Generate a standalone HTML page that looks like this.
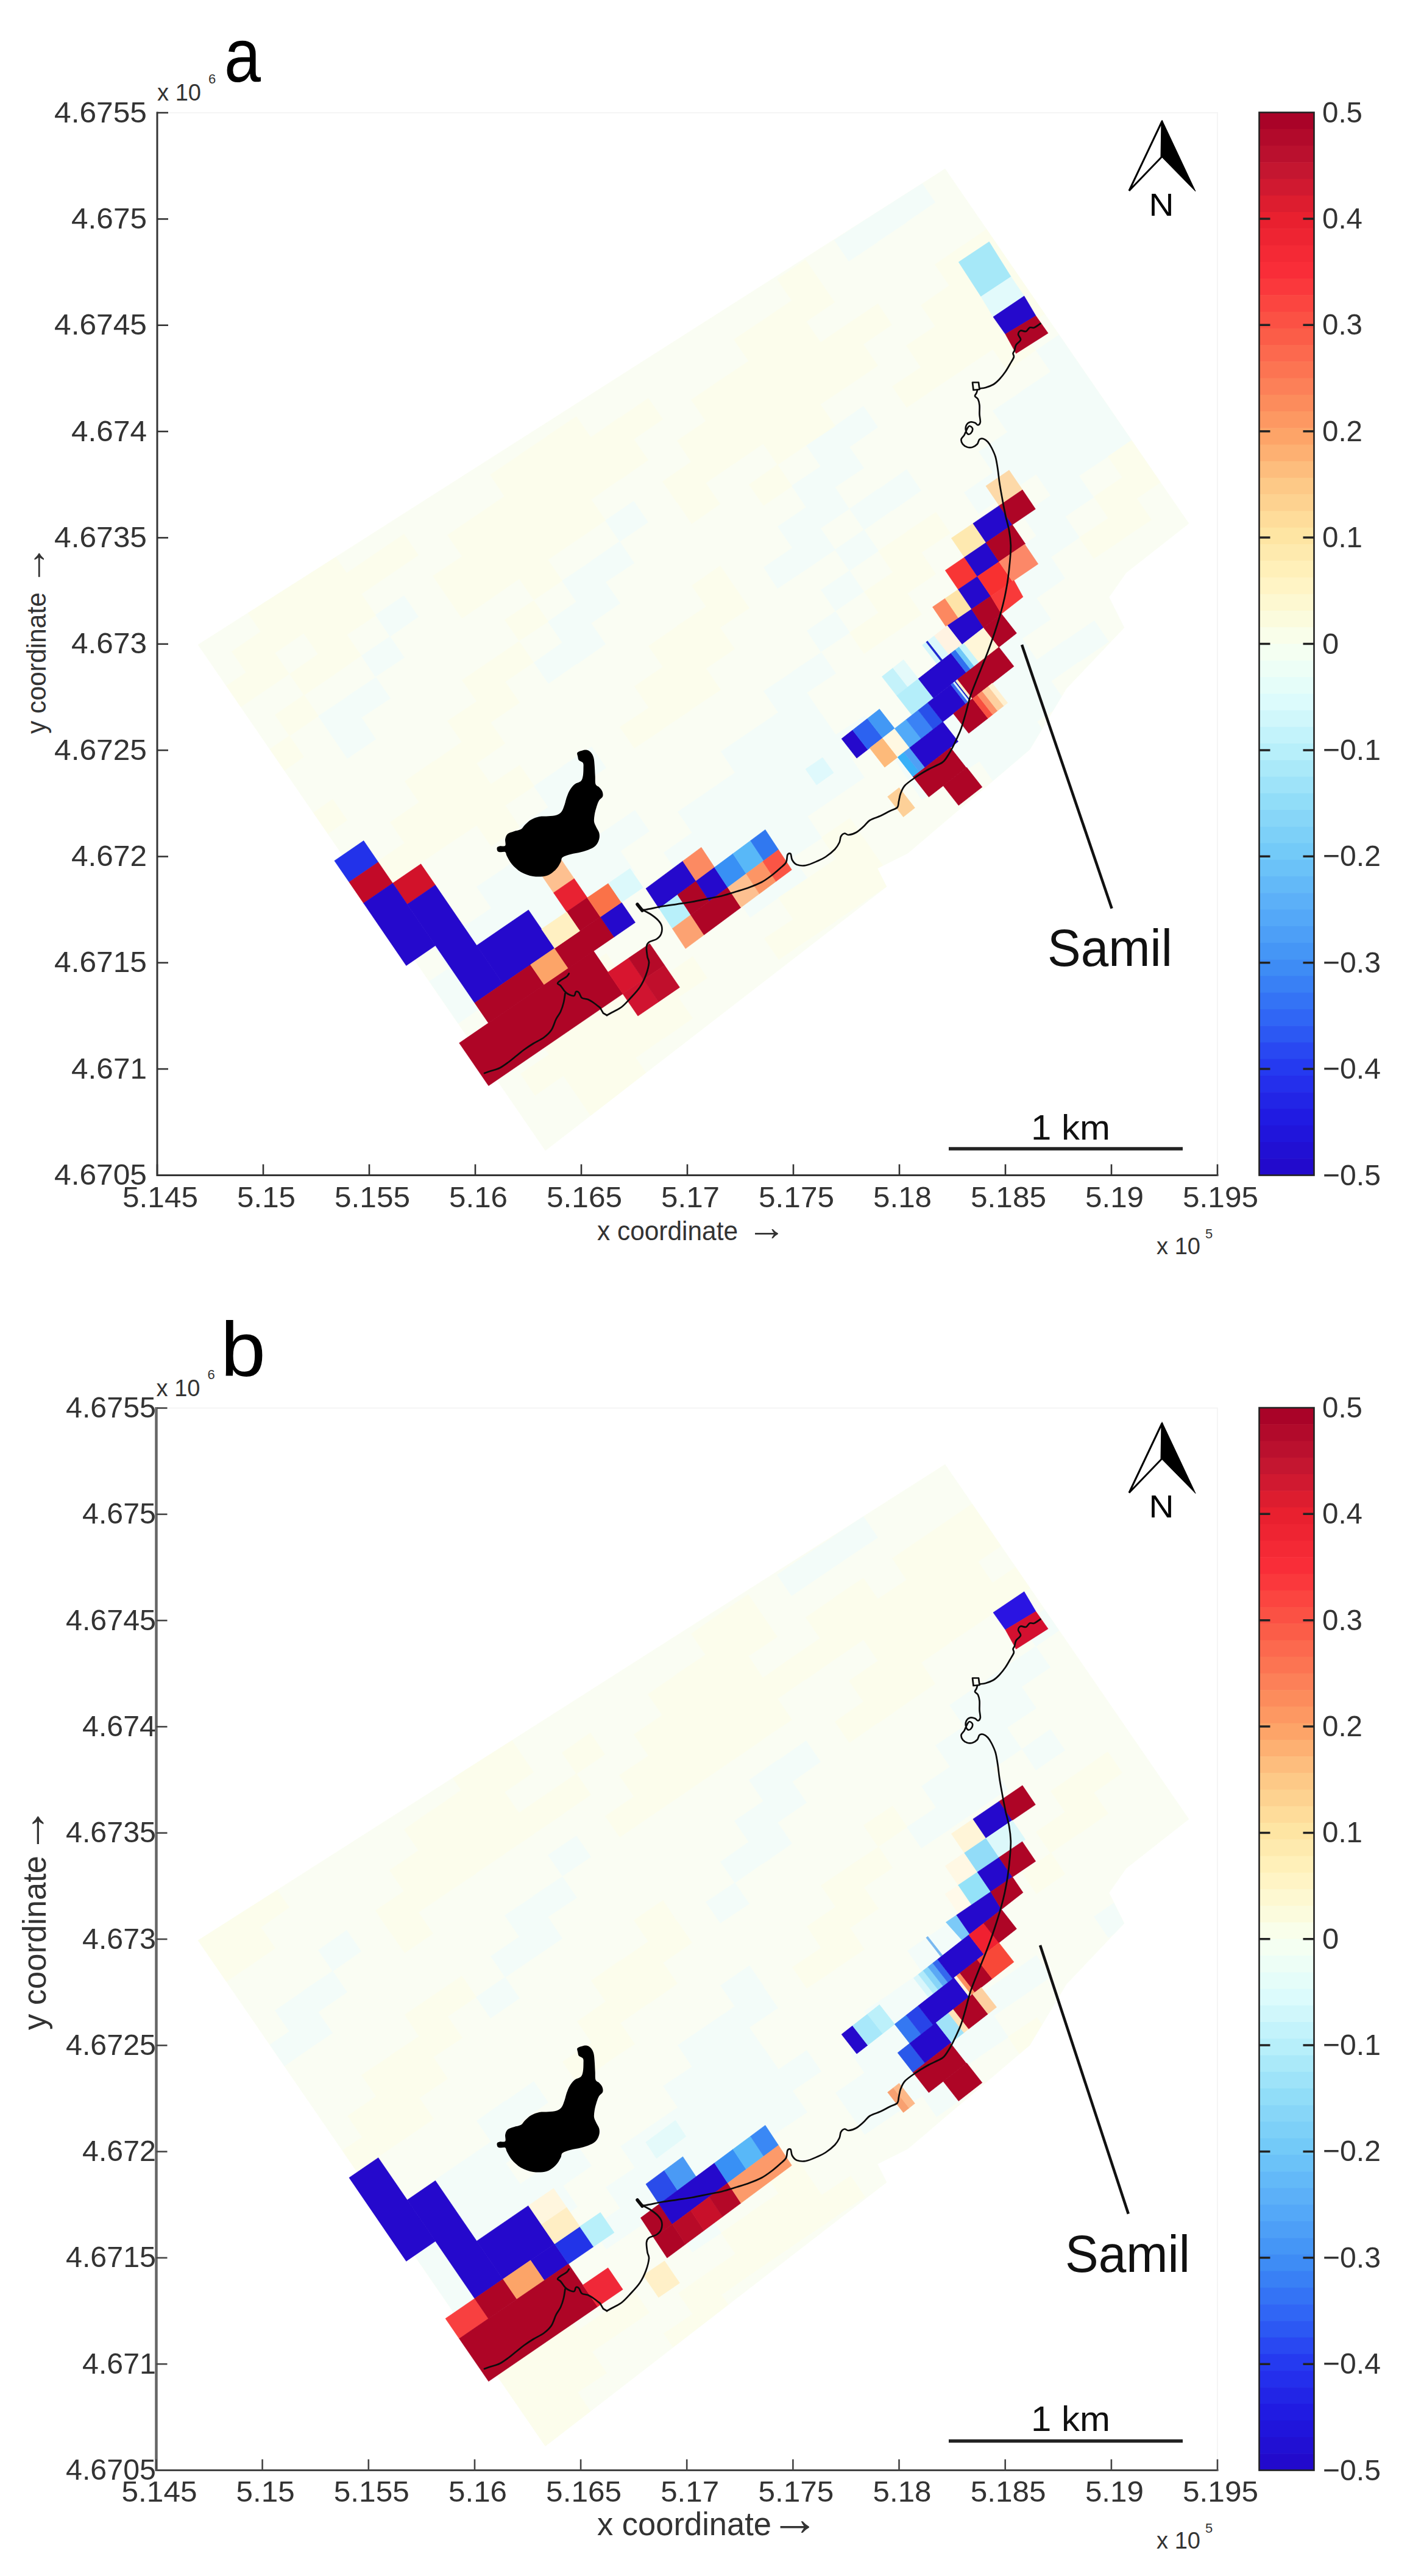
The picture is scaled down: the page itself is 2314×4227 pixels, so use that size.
<!DOCTYPE html>
<html><head><meta charset="utf-8"><title>Figure</title><style>html,body{margin:0;padding:0;background:#fff}svg{display:block}</style></head><body>
<svg width="2314" height="4227" viewBox="0 0 2314 4227" font-family="Liberation Sans, sans-serif">
<rect width="2314" height="4227" fill="#fff"/>
<g shape-rendering="geometricPrecision"><clipPath id="dom0"><polygon points="325.0,1058.0 1551.0,277.0 1951.0,859.0 1848.0,940.0 1820.0,980.0 1845.0,1030.0 1750.0,1130.0 1690.0,1230.0 1490.0,1400.0 1440.0,1425.0 1455.0,1455.0 895.0,1888.0"/></clipPath>
<polygon points="325.0,1058.0 1551.0,277.0 1951.0,859.0 1848.0,940.0 1820.0,980.0 1845.0,1030.0 1750.0,1130.0 1690.0,1230.0 1490.0,1400.0 1440.0,1425.0 1455.0,1455.0 895.0,1888.0" fill="#fafdf3" stroke="#fafdf3" stroke-width="0.7"/>
<g clip-path="url(#dom0)">
<path d="M617 1517L665 1485L689 1520L641 1552ZM688 1621L736 1589L760 1624L712 1656ZM712 1656L759 1623L783 1658L736 1691ZM712 1554L759 1522L783 1557L736 1589ZM735 1589L783 1557L807 1592L759 1624ZM759 1624L806 1591L830 1626L783 1659ZM806 1693L854 1661L878 1696L830 1728ZM522 1175L570 1143L593 1178L546 1210ZM546 1210L593 1177L617 1213L570 1245ZM759 1522L806 1490L830 1525L783 1557ZM782 1557L830 1524L854 1560L806 1592ZM806 1592L854 1559L877 1594L830 1627ZM830 1626L877 1594L901 1629L854 1661ZM569 1143L617 1111L641 1146L593 1178ZM782 1455L830 1423L854 1458L806 1490ZM806 1490L853 1458L877 1493L830 1525ZM829 1525L877 1492L901 1527L853 1560ZM853 1559L901 1527L925 1562L877 1595ZM877 1594L924 1562L948 1597L901 1629ZM593 1076L640 1044L664 1079L616 1111ZM829 1423L877 1391L901 1426L853 1458ZM853 1458L900 1426L924 1461L877 1493ZM877 1493L924 1460L948 1495L901 1528ZM900 1527L948 1495L972 1530L924 1562ZM616 1009L663 977L687 1012L640 1045ZM853 1356L900 1324L924 1359L877 1392ZM876 1391L924 1359L948 1394L900 1426ZM900 1426L947 1393L971 1428L924 1461ZM924 1460L971 1428L995 1463L948 1496ZM947 1495L995 1463L1019 1498L971 1530ZM876 1290L924 1257L948 1292L900 1325ZM900 1324L947 1292L971 1327L924 1359ZM947 1394L995 1361L1019 1396L971 1429ZM971 1428L1018 1396L1042 1431L995 1463ZM923 1257L971 1225L995 1260L947 1293ZM994 1362L1042 1329L1066 1364L1018 1397ZM1065 1466L1113 1433L1137 1468L1089 1501ZM876 1087L923 1054L947 1089L900 1122ZM1089 1399L1136 1366L1160 1402L1113 1434ZM1112 1434L1160 1401L1184 1436L1136 1469ZM899 1020L946 987L970 1022L923 1055ZM923 1054L970 1022L994 1057L947 1090ZM1112 1332L1159 1300L1183 1335L1136 1367ZM1136 1367L1183 1334L1207 1369L1160 1402ZM1159 1401L1207 1369L1231 1404L1183 1437ZM1183 1436L1230 1404L1254 1439L1207 1471ZM1207 1471L1254 1438L1278 1473L1231 1506ZM922 953L970 921L994 956L946 988ZM946 988L994 955L1018 990L970 1023ZM1159 1300L1207 1267L1231 1303L1183 1335ZM1183 1335L1230 1302L1254 1337L1207 1370ZM1206 1369L1254 1337L1278 1372L1230 1404ZM1230 1404L1278 1372L1302 1407L1254 1439ZM1254 1439L1301 1406L1325 1441L1278 1474ZM969 921L1017 888L1041 924L993 956ZM1183 1233L1230 1201L1254 1236L1206 1268ZM1206 1268L1254 1235L1278 1270L1230 1303ZM1230 1302L1277 1270L1301 1305L1254 1338ZM1254 1337L1301 1305L1325 1340L1277 1372ZM1277 1372L1325 1339L1349 1375L1301 1407ZM993 854L1040 822L1064 857L1017 889ZM1230 1201L1277 1169L1301 1204L1254 1236ZM1253 1236L1301 1203L1325 1238L1277 1271ZM1277 1270L1324 1238L1348 1273L1301 1305ZM1301 1305L1348 1273L1372 1308L1325 1340ZM1253 1134L1301 1102L1324 1137L1277 1169ZM1277 1169L1324 1136L1348 1172L1301 1204ZM1300 1204L1348 1171L1372 1206L1324 1239ZM1324 1238L1372 1206L1395 1241L1348 1273ZM1348 1273L1395 1241L1419 1276L1372 1308ZM1300 1102L1348 1070L1372 1105L1324 1137ZM1371 1206L1419 1174L1443 1209L1395 1241ZM1253 931L1300 899L1324 934L1276 966ZM1324 1035L1371 1003L1395 1038L1347 1070ZM1466 1243L1513 1211L1537 1246L1489 1278ZM1489 1278L1537 1246L1561 1281L1513 1313ZM1276 864L1323 832L1347 867L1300 899ZM1300 899L1347 867L1371 902L1324 934ZM1347 968L1394 936L1418 971L1371 1003ZM1489 1177L1536 1144L1560 1179L1513 1212ZM1513 1211L1560 1179L1584 1214L1537 1246ZM1536 1246L1584 1214L1608 1249L1560 1281ZM1299 797L1347 765L1371 800L1323 833ZM1323 832L1371 800L1394 835L1347 867ZM1370 902L1418 869L1442 904L1394 937ZM1536 1144L1584 1112L1607 1147L1560 1180ZM1560 1179L1607 1147L1631 1182L1584 1214ZM1583 1214L1631 1181L1655 1217L1607 1249ZM1607 1249L1655 1216L1678 1251L1631 1284ZM1323 731L1370 698L1394 733L1347 766ZM1346 765L1394 733L1418 768L1370 800ZM1394 835L1441 802L1465 837L1418 870ZM1559 1078L1607 1045L1631 1080L1583 1113ZM1583 1112L1631 1080L1655 1115L1607 1147ZM1607 1147L1654 1115L1678 1150L1631 1182ZM1630 1182L1678 1149L1702 1184L1654 1217ZM1654 1216L1702 1184L1726 1219L1678 1252ZM1370 699L1417 666L1441 701L1394 734ZM1441 803L1488 770L1512 805L1465 838ZM1583 1011L1630 978L1654 1013L1607 1046ZM1607 1045L1654 1013L1678 1048L1630 1081ZM1630 1080L1678 1048L1702 1083L1654 1115ZM1654 1115L1701 1082L1725 1118L1678 1150ZM1678 1150L1725 1117L1749 1152L1701 1185ZM1630 979L1677 946L1701 981L1654 1014ZM1654 1013L1701 981L1725 1016L1678 1048ZM1701 1083L1748 1050L1772 1085L1725 1118ZM1582 808L1630 775L1654 810L1606 843ZM1653 912L1701 879L1725 915L1677 947ZM1677 947L1725 914L1748 949L1701 982ZM1748 1051L1796 1018L1820 1053L1772 1086ZM1369 394L1417 362L1441 397L1393 429ZM1606 741L1653 709L1677 744L1630 776ZM1629 776L1677 743L1701 778L1653 811ZM1677 845L1724 813L1748 848L1701 880ZM1700 880L1748 847L1772 882L1724 915ZM1416 362L1464 329L1488 365L1440 397ZM1629 674L1677 642L1701 677L1653 709ZM1653 709L1700 676L1724 712L1677 744ZM1677 744L1724 711L1748 746L1700 779ZM1700 778L1748 746L1772 781L1724 813ZM1724 813L1771 781L1795 816L1748 848ZM1463 330L1511 297L1535 332L1487 365ZM1676 642L1724 610L1748 645L1700 677ZM1700 677L1747 644L1771 679L1724 712ZM1724 711L1771 679L1795 714L1748 747ZM1747 746L1795 714L1819 749L1771 781ZM1700 575L1747 543L1771 578L1724 610ZM1723 610L1771 577L1795 613L1747 645ZM1747 645L1795 612L1819 647L1771 680ZM1771 679L1818 647L1842 682L1795 714ZM1794 714L1842 682L1866 717L1818 749Z" fill="#f3fcf9"/>
<path d="M357 1135L404 1103L428 1138L381 1170ZM428 1239L475 1207L499 1242L452 1275ZM499 1344L546 1311L570 1346L523 1379ZM380 1069L428 1036L452 1071L404 1104ZM404 1103L451 1071L475 1106L428 1138ZM451 1173L499 1140L523 1175L475 1208ZM617 1415L664 1383L688 1418L641 1451ZM854 1762L901 1730L925 1765L878 1798ZM404 1002L451 969L475 1004L428 1037ZM427 1036L475 1004L499 1039L451 1072ZM475 1106L522 1073L546 1109L499 1141ZM640 1349L688 1316L712 1351L664 1384ZM664 1383L712 1351L735 1386L688 1418ZM877 1696L925 1663L949 1698L901 1731ZM901 1730L948 1698L972 1733L925 1765ZM924 1765L972 1733L996 1768L948 1800ZM948 1800L996 1767L1020 1802L972 1835ZM451 970L498 937L522 972L475 1005ZM474 1004L522 972L546 1007L498 1039ZM498 1039L546 1007L570 1042L522 1074ZM522 1074L569 1041L593 1076L546 1109ZM664 1282L711 1249L735 1285L688 1317ZM687 1317L735 1284L759 1319L711 1352ZM711 1351L759 1319L783 1354L735 1386ZM924 1664L972 1631L996 1666L948 1699ZM948 1698L995 1666L1019 1701L972 1733ZM971 1733L1019 1700L1043 1736L995 1768ZM995 1768L1043 1735L1067 1770L1019 1803ZM498 937L545 905L569 940L522 973ZM522 972L569 940L593 975L545 1007ZM545 1007L593 974L617 1010L569 1042ZM711 1250L758 1217L782 1252L735 1285ZM735 1284L782 1252L806 1287L758 1320ZM758 1319L806 1287L830 1322L782 1354ZM782 1354L829 1321L853 1357L806 1389ZM948 1597L995 1564L1019 1599L972 1632ZM971 1631L1019 1599L1043 1634L995 1666ZM995 1666L1042 1634L1066 1669L1019 1701ZM1019 1701L1066 1668L1090 1703L1043 1736ZM569 940L616 908L640 943L593 975ZM734 1183L782 1151L806 1186L758 1218ZM758 1218L805 1185L829 1220L782 1253ZM805 1287L853 1255L877 1290L829 1322ZM1042 1634L1089 1602L1113 1637L1066 1669ZM1066 1669L1113 1636L1137 1671L1090 1704ZM616 908L663 876L687 911L640 943ZM758 1116L805 1084L829 1119L782 1151ZM781 1151L829 1118L853 1153L805 1186ZM1089 1602L1137 1569L1161 1605L1113 1637ZM710 945L758 913L782 948L734 980ZM734 980L781 947L805 983L758 1015ZM805 1084L852 1052L876 1087L829 1119ZM734 878L781 846L805 881L758 913ZM757 913L805 881L829 916L781 948ZM781 948L828 915L852 950L805 983ZM828 1017L876 985L900 1020L852 1052ZM781 846L828 814L852 849L805 881ZM804 881L852 849L876 884L828 916ZM828 916L875 883L899 918L852 951ZM852 950L899 918L923 953L876 985ZM1017 1193L1065 1161L1089 1196L1041 1228ZM1254 1540L1302 1508L1325 1543L1278 1575ZM804 779L852 747L876 782L828 815ZM828 814L875 782L899 817L852 849ZM851 849L899 816L923 852L875 884ZM875 884L923 851L947 886L899 919ZM1041 1126L1088 1094L1112 1129L1065 1162ZM1064 1161L1112 1129L1136 1164L1088 1196ZM1277 1473L1325 1441L1349 1476L1301 1508ZM1301 1508L1349 1476L1373 1511L1325 1543ZM851 747L899 715L923 750L875 782ZM875 782L922 750L946 785L899 817ZM898 817L946 784L970 819L922 852ZM922 851L970 819L994 854L946 887ZM1064 1060L1112 1027L1136 1062L1088 1095ZM1088 1094L1135 1062L1159 1097L1112 1129ZM1111 1129L1159 1097L1183 1132L1135 1164ZM1325 1441L1372 1409L1396 1444L1348 1476ZM1348 1476L1396 1444L1420 1479L1372 1511ZM898 715L946 683L970 718L922 750ZM922 750L969 717L993 753L946 785ZM946 785L993 752L1017 787L970 820ZM1111 1027L1159 995L1183 1030L1135 1063ZM1135 1062L1182 1030L1206 1065L1159 1097ZM1348 1374L1395 1342L1419 1377L1372 1410ZM1372 1409L1419 1377L1443 1412L1396 1444ZM1395 1444L1443 1411L1467 1447L1419 1479ZM969 718L1016 685L1040 720L993 753ZM993 752L1040 720L1064 755L1017 788ZM1135 961L1182 928L1206 963L1159 996ZM1158 995L1206 963L1230 998L1182 1030ZM1016 686L1064 653L1088 688L1040 721ZM1087 790L1135 757L1159 792L1111 825ZM1111 824L1158 792L1182 827L1135 860ZM1111 723L1158 691L1182 726L1134 758ZM1134 758L1182 725L1206 760L1158 793ZM1134 656L1181 624L1205 659L1158 691ZM1158 691L1205 658L1229 694L1182 726ZM1181 725L1229 693L1253 728L1205 761ZM1229 795L1276 762L1300 798L1253 830ZM1394 1038L1442 1005L1466 1040L1418 1073ZM1181 624L1229 592L1252 627L1205 659ZM1205 659L1252 626L1276 661L1229 694ZM1228 693L1276 661L1300 696L1252 728ZM1252 728L1300 696L1323 731L1276 763ZM1418 971L1465 939L1489 974L1442 1006ZM1441 1006L1489 973L1513 1008L1465 1041ZM1204 557L1252 525L1276 560L1228 592ZM1228 592L1276 559L1300 595L1252 627ZM1252 627L1299 594L1323 629L1276 662ZM1275 661L1323 629L1347 664L1299 696ZM1299 696L1347 664L1371 699L1323 731ZM1441 904L1489 872L1513 907L1465 939ZM1465 939L1512 906L1536 942L1489 974ZM1252 525L1299 493L1323 528L1275 560ZM1275 560L1323 527L1347 562L1299 595ZM1299 594L1346 562L1370 597L1323 630ZM1323 629L1370 597L1394 632L1346 664ZM1488 872L1536 840L1560 875L1512 907ZM1275 458L1322 426L1346 461L1299 493ZM1299 493L1346 461L1370 496L1323 528ZM1346 562L1393 530L1417 565L1370 597ZM1370 597L1417 565L1441 600L1394 632ZM1393 530L1441 498L1464 533L1417 565ZM1464 634L1512 602L1535 637L1488 669ZM1487 567L1535 535L1559 570L1511 603ZM1511 602L1559 570L1583 605L1535 637ZM1511 501L1558 468L1582 503L1535 536ZM1535 535L1582 503L1606 538L1558 570ZM1558 570L1606 538L1630 573L1582 605ZM1771 882L1819 850L1843 885L1795 917ZM1534 434L1582 401L1606 437L1558 469ZM1558 469L1605 436L1629 471L1582 504ZM1582 503L1629 471L1653 506L1606 538ZM1605 538L1653 506L1677 541L1629 573ZM1629 573L1676 540L1700 575L1653 608ZM1795 815L1842 783L1866 818L1819 851ZM1818 850L1866 818L1890 853L1842 885ZM1581 402L1629 369L1653 404L1605 437ZM1605 436L1653 404L1676 439L1629 472ZM1629 471L1676 439L1700 474L1653 506ZM1652 506L1700 473L1724 509L1676 541ZM1818 749L1866 716L1890 751L1842 784ZM1842 783L1889 751L1913 786L1866 818Z" fill="#fcfdec"/>
</g>
<polygon points="1322.0,1262.0 1350.0,1243.0 1368.0,1268.0 1340.0,1288.0" fill="#dff9fc" stroke="#dff9fc" stroke-width="0.7"/>
<polygon points="1573.3,430.0 1623.3,396.7 1659.2,454.2 1610.0,486.7" fill="#a6e8f8" stroke="#a6e8f8" stroke-width="0.7"/>
<polygon points="1610.0,486.7 1659.2,454.2 1680.8,485.8 1630.0,520.0" fill="#e2fafb" stroke="#e2fafb" stroke-width="0.7"/>
<polygon points="1630.0,520.0 1680.8,485.8 1700.0,518.3 1650.0,548.3" fill="#2509cc" stroke="#2509cc" stroke-width="0.7"/>
<polygon points="1650.0,548.3 1700.0,518.3 1720.0,546.7 1667.5,580.0" fill="#ae0526" stroke="#ae0526" stroke-width="0.7"/>
<polygon points="1618.0,797.4 1656.1,771.6 1678.0,803.8 1639.9,829.7" fill="#fdd9a8" stroke="#fdd9a8" stroke-width="0.7"/>
<polygon points="1561.4,883.1 1596.9,858.9 1618.3,890.3 1582.7,914.5" fill="#fee9b0" stroke="#fee9b0" stroke-width="0.7"/>
<polygon points="1596.9,858.9 1639.9,829.7 1661.3,861.1 1618.3,890.3" fill="#2509cc" stroke="#2509cc" stroke-width="0.7"/>
<polygon points="1639.9,829.7 1678.0,803.8 1699.3,835.3 1661.3,861.1" fill="#ae0526" stroke="#ae0526" stroke-width="0.7"/>
<polygon points="1551.3,935.9 1582.7,914.5 1604.1,945.9 1572.6,967.3" fill="#f83535" stroke="#f83535" stroke-width="0.7"/>
<polygon points="1582.7,914.5 1618.3,890.3 1639.6,921.8 1604.1,945.9" fill="#2509cc" stroke="#2509cc" stroke-width="0.7"/>
<polygon points="1618.3,890.3 1661.3,861.1 1682.7,892.5 1639.6,921.8" fill="#ae0526" stroke="#ae0526" stroke-width="0.7"/>
<polygon points="1530.5,996.0 1551.1,981.9 1573.1,1014.2 1552.4,1028.2" fill="#fc8860" stroke="#fc8860" stroke-width="0.7"/>
<polygon points="1551.1,981.9 1572.6,967.3 1594.6,999.6 1573.1,1014.2" fill="#fee4a8" stroke="#fee4a8" stroke-width="0.7"/>
<polygon points="1572.6,967.3 1604.1,945.9 1626.0,978.2 1594.6,999.6" fill="#2509cc" stroke="#2509cc" stroke-width="0.7"/>
<polygon points="1604.1,945.9 1639.6,921.8 1661.6,954.0 1626.0,978.2" fill="#f83030" stroke="#f83030" stroke-width="0.7"/>
<polygon points="1639.6,921.8 1681.8,893.1 1703.7,925.4 1661.6,954.0" fill="#fc8868" stroke="#fc8868" stroke-width="0.7"/>
<polygon points="1554.9,1026.5 1594.6,999.6 1614.3,1030.0 1578.9,1057.7" fill="#2509cc" stroke="#2509cc" stroke-width="0.7"/>
<polygon points="1594.6,999.6 1626.0,978.2 1643.5,1007.2 1614.3,1030.0" fill="#ae0526" stroke="#ae0526" stroke-width="0.7"/>
<polygon points="1626.0,978.2 1664.0,952.3 1678.9,979.5 1643.5,1007.2" fill="#f83a3a" stroke="#f83a3a" stroke-width="0.7"/>
<polygon points="1447.4,1110.3 1465.5,1096.1 1489.8,1127.2 1471.7,1141.4" fill="#c4f2fa" stroke="#c4f2fa" stroke-width="0.7"/>
<polygon points="1465.5,1096.1 1482.8,1082.6 1507.2,1113.7 1489.8,1127.2" fill="#e4fafa" stroke="#e4fafa" stroke-width="0.7"/>
<polygon points="1513.6,1058.6 1519.9,1053.6 1544.2,1084.8 1537.9,1089.7" fill="#d4f6fb" stroke="#d4f6fb" stroke-width="0.7"/>
<polygon points="1519.9,1053.6 1522.6,1051.5 1547.0,1082.6 1544.2,1084.8" fill="#1c28d0" stroke="#1c28d0" stroke-width="0.7"/>
<polygon points="1522.6,1051.5 1533.3,1043.2 1557.6,1074.3 1547.0,1082.6" fill="#dcf8fb" stroke="#dcf8fb" stroke-width="0.7"/>
<polygon points="1533.3,1043.2 1554.5,1026.5 1578.9,1057.7 1557.6,1074.3" fill="#fff3e2" stroke="#fff3e2" stroke-width="0.7"/>
<polygon points="1381.1,1212.2 1399.2,1198.0 1424.1,1230.0 1406.0,1244.1" fill="#2509cc" stroke="#2509cc" stroke-width="0.7"/>
<polygon points="1399.2,1198.0 1423.6,1179.0 1448.6,1210.9 1424.1,1230.0" fill="#2c62f0" stroke="#2c62f0" stroke-width="0.7"/>
<polygon points="1423.6,1179.0 1443.3,1163.6 1468.3,1195.5 1448.6,1210.9" fill="#4298f5" stroke="#4298f5" stroke-width="0.7"/>
<polygon points="1471.7,1141.4 1507.2,1113.7 1532.1,1145.6 1496.6,1173.3" fill="#b4eefa" stroke="#b4eefa" stroke-width="0.7"/>
<polygon points="1507.2,1113.7 1560.7,1071.8 1585.7,1103.7 1532.1,1145.6" fill="#2509cc" stroke="#2509cc" stroke-width="0.7"/>
<polygon points="1560.7,1071.8 1567.8,1066.3 1592.8,1098.2 1585.7,1103.7" fill="#3070f0" stroke="#3070f0" stroke-width="0.7"/>
<polygon points="1567.8,1066.3 1574.1,1061.4 1599.1,1093.3 1592.8,1098.2" fill="#70c8f8" stroke="#70c8f8" stroke-width="0.7"/>
<polygon points="1574.1,1061.4 1582.0,1055.2 1607.0,1087.1 1599.1,1093.3" fill="#c8f4fa" stroke="#c8f4fa" stroke-width="0.7"/>
<polygon points="1582.0,1055.2 1614.3,1030.0 1639.3,1061.9 1607.0,1087.1" fill="#fff6d8" stroke="#fff6d8" stroke-width="0.7"/>
<polygon points="1614.3,1030.0 1643.5,1007.2 1668.4,1039.1 1639.3,1061.9" fill="#ae0526" stroke="#ae0526" stroke-width="0.7"/>
<polygon points="1427.3,1227.5 1448.6,1210.9 1473.2,1242.4 1451.9,1259.0" fill="#fdba7a" stroke="#fdba7a" stroke-width="0.7"/>
<polygon points="1448.6,1210.9 1468.3,1195.5 1492.9,1227.0 1473.2,1242.4" fill="#fff8e2" stroke="#fff8e2" stroke-width="0.7"/>
<polygon points="1468.3,1195.5 1487.2,1180.7 1511.8,1212.2 1492.9,1227.0" fill="#52aaf8" stroke="#52aaf8" stroke-width="0.7"/>
<polygon points="1487.2,1180.7 1506.9,1165.3 1531.5,1196.8 1511.8,1212.2" fill="#3a82f5" stroke="#3a82f5" stroke-width="0.7"/>
<polygon points="1506.9,1165.3 1522.6,1153.0 1547.3,1184.5 1531.5,1196.8" fill="#2850ea" stroke="#2850ea" stroke-width="0.7"/>
<polygon points="1522.6,1153.0 1560.5,1123.4 1585.1,1155.0 1547.3,1184.5" fill="#2509cc" stroke="#2509cc" stroke-width="0.7"/>
<polygon points="1560.5,1123.4 1564.4,1120.4 1589.0,1151.9 1585.1,1155.0" fill="#3a6cf0" stroke="#3a6cf0" stroke-width="0.7"/>
<polygon points="1564.4,1120.4 1566.8,1118.5 1591.4,1150.0 1589.0,1151.9" fill="#d8f4fa" stroke="#d8f4fa" stroke-width="0.7"/>
<polygon points="1566.8,1118.5 1568.3,1117.3 1593.0,1148.8 1591.4,1150.0" fill="#1a20c8" stroke="#1a20c8" stroke-width="0.7"/>
<polygon points="1568.3,1117.3 1571.5,1114.8 1596.1,1146.3 1593.0,1148.8" fill="#fff0c8" stroke="#fff0c8" stroke-width="0.7"/>
<polygon points="1571.5,1114.8 1639.3,1061.9 1663.9,1093.4 1596.1,1146.3" fill="#ae0526" stroke="#ae0526" stroke-width="0.7"/>
<polygon points="1473.2,1242.4 1483.4,1234.4 1508.7,1266.7 1498.4,1274.7" fill="#38b0f8" stroke="#38b0f8" stroke-width="0.7"/>
<polygon points="1483.4,1234.4 1492.9,1227.0 1518.1,1259.3 1508.7,1266.7" fill="#50a0f5" stroke="#50a0f5" stroke-width="0.7"/>
<polygon points="1492.9,1227.0 1547.3,1184.5 1572.5,1216.8 1518.1,1259.3" fill="#2509cc" stroke="#2509cc" stroke-width="0.7"/>
<polygon points="1564.6,1171.0 1596.1,1146.3 1621.4,1178.7 1589.8,1203.3" fill="#ae0526" stroke="#ae0526" stroke-width="0.7"/>
<polygon points="1596.1,1146.3 1604.0,1140.2 1629.2,1172.5 1621.4,1178.7" fill="#f85040" stroke="#f85040" stroke-width="0.7"/>
<polygon points="1604.0,1140.2 1611.9,1134.0 1637.1,1166.3 1629.2,1172.5" fill="#fc9068" stroke="#fc9068" stroke-width="0.7"/>
<polygon points="1611.9,1134.0 1622.1,1126.0 1647.4,1158.3 1637.1,1166.3" fill="#fdd0a0" stroke="#fdd0a0" stroke-width="0.7"/>
<polygon points="1622.1,1126.0 1628.4,1121.1 1653.7,1153.4 1647.4,1158.3" fill="#fff0d0" stroke="#fff0d0" stroke-width="0.7"/>
<polygon points="1498.4,1274.7 1559.9,1226.7 1585.8,1259.8 1524.3,1307.8" fill="#ae0526" stroke="#ae0526" stroke-width="0.7"/>
<polygon points="1547.9,1289.3 1586.5,1259.2 1611.8,1291.5 1573.2,1321.6" fill="#ae0526" stroke="#ae0526" stroke-width="0.7"/>
<polygon points="1456.7,1307.3 1475.6,1292.5 1501.4,1325.6 1482.5,1340.4" fill="#fdd098" stroke="#fdd098" stroke-width="0.7"/>
<polygon points="1060.0,1457.9 1120.6,1412.9 1142.3,1445.8 1081.7,1490.8" fill="#2509cc" stroke="#2509cc" stroke-width="0.7"/>
<polygon points="1120.6,1412.9 1150.9,1390.4 1172.6,1423.3 1142.3,1445.8" fill="#fc8a62" stroke="#fc8a62" stroke-width="0.7"/>
<polygon points="1081.7,1490.8 1112.0,1468.3 1133.7,1501.2 1103.4,1523.7" fill="#b8f0fa" stroke="#b8f0fa" stroke-width="0.7"/>
<polygon points="1112.0,1468.3 1142.3,1445.8 1164.0,1478.7 1133.7,1501.2" fill="#ae0526" stroke="#ae0526" stroke-width="0.7"/>
<polygon points="1142.3,1445.8 1172.6,1423.3 1194.3,1456.2 1164.0,1478.7" fill="#2509cc" stroke="#2509cc" stroke-width="0.7"/>
<polygon points="1172.6,1423.3 1202.9,1400.8 1224.6,1433.7 1194.3,1456.2" fill="#3890f5" stroke="#3890f5" stroke-width="0.7"/>
<polygon points="1202.9,1400.8 1231.7,1379.4 1253.4,1412.3 1224.6,1433.7" fill="#58b8f8" stroke="#58b8f8" stroke-width="0.7"/>
<polygon points="1231.7,1379.4 1255.9,1361.4 1277.6,1394.3 1253.4,1412.3" fill="#3078f0" stroke="#3078f0" stroke-width="0.7"/>
<polygon points="1103.4,1523.7 1133.7,1501.2 1155.4,1534.1 1125.1,1556.6" fill="#fca272" stroke="#fca272" stroke-width="0.7"/>
<polygon points="1133.7,1501.2 1194.3,1456.2 1216.0,1489.1 1155.4,1534.1" fill="#ae0526" stroke="#ae0526" stroke-width="0.7"/>
<polygon points="1194.3,1456.2 1224.6,1433.7 1246.3,1466.6 1216.0,1489.1" fill="#fdc090" stroke="#fdc090" stroke-width="0.7"/>
<polygon points="1224.6,1433.7 1251.9,1413.5 1273.6,1446.3 1246.3,1466.6" fill="#fc9565" stroke="#fc9565" stroke-width="0.7"/>
<polygon points="1251.9,1413.5 1277.6,1394.3 1299.3,1427.2 1273.6,1446.3" fill="#fb5545" stroke="#fb5545" stroke-width="0.7"/>
<polygon points="548.9,1412.4 596.8,1379.6 620.8,1414.7 573.0,1447.4" fill="#2232ea" stroke="#2232ea" stroke-width="0.7"/>
<polygon points="573.0,1447.4 620.8,1414.7 644.5,1449.3 596.7,1482.1" fill="#c20a28" stroke="#c20a28" stroke-width="0.7"/>
<polygon points="644.5,1449.3 690.7,1417.7 714.5,1452.3 668.3,1484.0" fill="#d2122a" stroke="#d2122a" stroke-width="0.7"/>
<polygon points="596.7,1482.1 644.5,1449.3 714.6,1551.6 666.7,1584.4" fill="#2509cc" stroke="#2509cc" stroke-width="0.7"/>
<polygon points="668.3,1484.0 714.5,1452.3 825.2,1614.1 779.0,1645.7" fill="#2509cc" stroke="#2509cc" stroke-width="0.7"/>
<polygon points="782.3,1551.4 867.3,1493.2 910.2,1555.9 825.2,1614.1" fill="#2509cc" stroke="#2509cc" stroke-width="0.7"/>
<polygon points="779.0,1645.7 870.6,1583.0 893.2,1616.0 801.6,1678.7" fill="#ae0526" stroke="#ae0526" stroke-width="0.7"/>
<polygon points="870.6,1583.0 910.2,1555.9 932.8,1588.9 893.2,1616.0" fill="#fca468" stroke="#fca468" stroke-width="0.7"/>
<polygon points="910.2,1555.9 985.3,1504.5 1007.9,1537.5 932.8,1588.9" fill="#ae0526" stroke="#ae0526" stroke-width="0.7"/>
<polygon points="985.3,1504.5 1019.9,1480.7 1042.5,1513.7 1007.9,1537.5" fill="#2509cc" stroke="#2509cc" stroke-width="0.7"/>
<polygon points="753.7,1711.5 974.1,1560.6 1022.1,1630.8 801.8,1781.6" fill="#ae0526" stroke="#ae0526" stroke-width="0.7"/>
<polygon points="887.0,1433.6 920.9,1410.4 942.3,1441.7 908.5,1464.9" fill="#fdc090" stroke="#fdc090" stroke-width="0.7"/>
<polygon points="908.5,1464.9 942.3,1441.7 963.8,1473.1 930.0,1496.3" fill="#e82232" stroke="#e82232" stroke-width="0.7"/>
<polygon points="930.0,1496.3 963.8,1473.1 985.3,1504.5 951.5,1527.6" fill="#ae0526" stroke="#ae0526" stroke-width="0.7"/>
<polygon points="888.7,1524.5 930.0,1496.3 951.5,1527.6 910.2,1555.9" fill="#fff0c2" stroke="#fff0c2" stroke-width="0.7"/>
<polygon points="963.8,1473.1 998.5,1449.4 1019.9,1480.7 985.3,1504.5" fill="#fa7248" stroke="#fa7248" stroke-width="0.7"/>
<polygon points="998.5,1449.4 1033.9,1425.1 1055.4,1456.4 1019.9,1480.7" fill="#dcf9fb" stroke="#dcf9fb" stroke-width="0.7"/>
<polygon points="997.8,1595.3 1031.6,1572.1 1055.9,1607.6 1022.1,1630.8" fill="#d8152f" stroke="#d8152f" stroke-width="0.7"/>
<polygon points="1031.6,1572.1 1066.3,1548.4 1090.6,1583.9 1055.9,1607.6" fill="#b50a28" stroke="#b50a28" stroke-width="0.7"/>
<polygon points="1022.1,1630.8 1055.9,1607.6 1080.8,1643.9 1046.9,1667.1" fill="#d01430" stroke="#d01430" stroke-width="0.7"/>
<polygon points="1055.9,1607.6 1090.6,1583.9 1115.4,1620.2 1080.8,1643.9" fill="#c00f2c" stroke="#c00f2c" stroke-width="0.7"/>
<g fill="none" stroke="#0c0c0c" stroke-width="2.7" stroke-linecap="round" stroke-linejoin="round"><path d="M1707.5 531.0C1705.8 532.1 1700.4 536.4 1697.5 537.5C1694.6 538.6 1692.3 536.5 1690.0 537.5C1687.7 538.5 1686.2 542.9 1683.8 543.8C1681.2 544.6 1677.1 541.7 1675.0 542.5C1672.9 543.3 1671.0 546.2 1671.0 548.8C1671.0 551.2 1675.6 554.6 1675.0 557.5C1674.4 560.4 1669.2 563.1 1667.5 566.0C1665.8 568.9 1665.8 572.7 1665.0 575.0C1664.2 577.3 1662.7 578.2 1662.5 580.0C1662.3 581.8 1664.6 583.1 1663.8 586.0C1662.9 588.9 1659.8 593.5 1657.5 597.5C1655.2 601.5 1652.9 605.8 1650.0 610.0C1647.1 614.2 1643.3 619.0 1640.0 622.5C1636.7 626.0 1633.8 628.8 1630.0 631.0C1626.2 633.2 1621.2 634.9 1617.5 636.0C1613.8 637.1 1609.2 637.2 1607.5 637.5"/><path d="M1604.0 640.0C1603.8 640.8 1603.2 643.3 1602.5 645.0C1601.8 646.7 1599.6 648.3 1600.0 650.0C1600.4 651.7 1603.8 652.5 1605.0 655.0C1606.2 657.5 1607.1 660.8 1607.5 665.0C1607.9 669.2 1607.3 675.4 1607.5 680.0C1607.7 684.6 1609.2 689.6 1608.8 692.5C1608.3 695.4 1606.5 697.3 1605.0 697.5C1603.5 697.7 1602.1 694.6 1600.0 693.8C1597.9 692.9 1594.8 691.9 1592.5 692.5C1590.2 693.1 1587.2 695.2 1586.0 697.5C1584.8 699.8 1584.5 703.5 1585.0 706.0C1585.5 708.5 1587.2 711.8 1588.8 712.5C1590.2 713.2 1592.8 711.6 1594.0 710.0C1595.2 708.4 1596.5 704.8 1596.0 703.0C1595.5 701.2 1592.5 698.8 1591.0 699.0C1589.5 699.2 1588.4 701.5 1587.0 704.0C1585.6 706.5 1584.1 710.9 1582.5 713.8C1580.9 716.6 1577.9 718.5 1577.5 721.0C1577.1 723.5 1578.3 726.6 1580.0 728.8C1581.7 730.9 1584.8 732.9 1587.5 733.8C1590.2 734.6 1593.3 734.6 1596.0 733.8C1598.7 732.9 1601.8 730.9 1603.8 728.8C1605.7 726.6 1605.8 722.5 1607.5 721.0C1609.2 719.5 1611.5 719.3 1613.8 720.0C1616.0 720.7 1618.7 722.5 1621.0 725.0C1623.3 727.5 1625.4 730.8 1627.5 735.0C1629.6 739.2 1632.1 744.2 1633.8 750.0C1635.4 755.8 1636.5 763.3 1637.5 770.0C1638.5 776.7 1639.0 782.9 1640.0 790.0C1641.0 797.1 1642.1 803.3 1643.8 812.5C1645.4 821.7 1648.0 835.4 1650.0 845.0C1652.0 854.6 1654.5 861.7 1656.0 870.0C1657.5 878.3 1658.5 886.7 1658.8 895.0C1659.0 903.3 1658.3 910.4 1657.5 920.0C1656.7 929.6 1655.2 942.5 1653.8 952.5C1652.3 962.5 1650.6 971.2 1648.8 980.0C1646.9 988.8 1645.2 995.4 1642.5 1005.0C1639.8 1014.6 1636.2 1026.2 1632.5 1037.5C1628.8 1048.8 1624.6 1060.4 1620.0 1072.5C1615.4 1084.6 1609.6 1098.3 1605.0 1110.0C1600.4 1121.7 1595.8 1132.5 1592.5 1142.5C1589.2 1152.5 1587.5 1161.2 1585.0 1170.0C1582.5 1178.8 1580.0 1187.9 1577.5 1195.0C1575.0 1202.1 1572.9 1206.2 1570.0 1212.5C1567.1 1218.8 1563.5 1226.4 1560.0 1232.5C1556.5 1238.6 1552.7 1245.2 1549.0 1249.0C1545.3 1252.8 1542.7 1253.0 1538.0 1255.5C1533.3 1258.0 1527.2 1260.5 1521.0 1264.0C1514.8 1267.5 1507.0 1272.3 1501.0 1276.5C1495.0 1280.7 1488.8 1284.8 1485.0 1289.0C1481.2 1293.2 1479.7 1297.7 1478.0 1302.0C1476.3 1306.3 1475.9 1311.2 1475.0 1315.0C1474.1 1318.8 1475.0 1322.3 1472.5 1325.0C1470.0 1327.7 1464.6 1328.7 1460.0 1331.0C1455.4 1333.3 1450.4 1336.2 1445.0 1338.8C1439.6 1341.2 1432.1 1343.1 1427.5 1346.0C1422.9 1348.9 1421.2 1352.7 1417.5 1356.0C1413.8 1359.3 1409.2 1363.7 1405.0 1366.0C1400.8 1368.3 1395.7 1369.8 1392.5 1370.0C1389.3 1370.2 1388.1 1367.1 1386.0 1367.5C1383.9 1367.9 1381.4 1370.0 1380.0 1372.5C1378.6 1375.0 1379.2 1379.0 1377.5 1382.5C1375.8 1386.0 1373.8 1389.8 1370.0 1393.8C1366.2 1397.7 1359.6 1402.9 1355.0 1406.0C1350.4 1409.1 1347.9 1410.2 1342.5 1412.5C1337.1 1414.8 1328.3 1419.0 1322.5 1420.0C1316.7 1421.0 1311.2 1420.2 1307.5 1418.8C1303.8 1417.2 1301.7 1414.0 1300.0 1411.0C1298.3 1408.0 1298.8 1402.4 1297.5 1401.0C1296.2 1399.6 1293.8 1400.2 1292.5 1402.5C1291.2 1404.8 1292.1 1411.2 1290.0 1415.0C1287.9 1418.8 1284.2 1421.2 1280.0 1425.0C1275.8 1428.8 1270.0 1433.8 1265.0 1437.5C1260.0 1441.2 1255.8 1444.4 1250.0 1447.5C1244.2 1450.6 1236.7 1453.5 1230.0 1456.0C1223.3 1458.5 1217.5 1460.2 1210.0 1462.5C1202.5 1464.8 1193.3 1467.9 1185.0 1470.0C1176.7 1472.1 1168.3 1473.3 1160.0 1475.0C1151.7 1476.7 1143.3 1478.5 1135.0 1480.0C1126.7 1481.5 1118.3 1482.5 1110.0 1483.8C1101.7 1485.0 1093.3 1486.0 1085.0 1487.5C1076.7 1489.0 1065.4 1491.7 1060.0 1492.5C1054.6 1493.3 1053.8 1492.5 1052.5 1492.5"/><path d="M1053.8 1492.5C1056.0 1493.8 1063.1 1497.1 1067.5 1500.0C1071.9 1502.9 1076.9 1506.7 1080.0 1510.0C1083.1 1513.3 1085.2 1516.2 1086.0 1520.0C1086.8 1523.8 1086.4 1529.0 1085.0 1532.5C1083.6 1536.0 1080.8 1538.8 1077.5 1541.0C1074.2 1543.2 1067.8 1543.9 1065.0 1546.0C1062.2 1548.1 1061.4 1549.8 1061.0 1553.8C1060.6 1557.8 1061.8 1565.6 1062.5 1570.0C1063.2 1574.4 1065.4 1575.0 1065.0 1580.0C1064.6 1585.0 1062.5 1593.3 1060.0 1600.0C1057.5 1606.7 1054.2 1613.8 1050.0 1620.0C1045.8 1626.2 1040.0 1632.1 1035.0 1637.5C1030.0 1642.9 1025.0 1648.6 1020.0 1652.5C1015.0 1656.4 1009.0 1658.8 1005.0 1661.0C1001.0 1663.2 997.5 1665.2 996.0 1666.0"/><path d="M985.0 1653.8C983.3 1652.5 978.3 1648.3 975.0 1646.0C971.7 1643.7 968.3 1641.4 965.0 1640.0C961.7 1638.6 957.5 1639.4 955.0 1637.5C952.5 1635.6 951.7 1630.4 950.0 1628.8C948.3 1627.1 946.2 1626.7 945.0 1627.5C943.8 1628.3 944.2 1632.9 942.5 1633.8C940.8 1634.6 937.5 1633.5 935.0 1632.5C932.5 1631.5 930.0 1630.0 927.5 1627.5C925.0 1625.0 922.1 1619.8 920.0 1617.5C917.9 1615.2 915.0 1615.2 915.0 1613.8C915.0 1612.3 917.5 1610.6 920.0 1608.8C922.5 1606.9 927.7 1604.4 930.0 1602.5C932.3 1600.6 933.1 1598.3 933.8 1597.5"/><path d="M927.5 1630.0C927.1 1632.5 926.2 1640.0 925.0 1645.0C923.8 1650.0 922.1 1655.4 920.0 1660.0C917.9 1664.6 915.0 1667.5 912.5 1672.5C910.0 1677.5 908.3 1685.0 905.0 1690.0C901.7 1695.0 897.5 1698.8 892.5 1702.5C887.5 1706.2 880.4 1709.2 875.0 1712.5C869.6 1715.8 864.6 1719.2 860.0 1722.5C855.4 1725.8 851.7 1729.2 847.5 1732.5C843.3 1735.8 839.6 1739.2 835.0 1742.5C830.4 1745.8 825.0 1750.0 820.0 1752.5C815.0 1755.0 809.2 1756.1 805.0 1757.5C800.8 1758.9 796.7 1760.4 795.0 1761.0"/><path d="M1596.0 627.5 L1606.0 627.5 L1607.5 639.0 L1597.5 640.0Z"/><path d="M996.0 1666.0 L990.0 1662.5 L985.0 1653.8"/><path d="M1054 1494L1046 1484" stroke-width="5.5"/></g><path d="M947.5 1235.0C948.6 1233.3 952.4 1232.4 955.0 1231.7C957.6 1231.0 960.8 1230.2 963.3 1230.8C965.8 1231.3 968.2 1232.9 970.0 1235.0C971.8 1237.1 973.2 1239.7 974.2 1243.3C975.2 1246.9 975.4 1251.7 975.8 1256.7C976.2 1261.7 976.4 1268.3 976.7 1273.3C977.0 1278.3 976.4 1283.6 977.5 1286.7C978.6 1289.8 981.5 1289.8 983.3 1291.7C985.1 1293.6 987.3 1295.8 988.3 1298.3C989.3 1300.8 990.0 1304.2 989.2 1306.7C988.4 1309.2 985.0 1310.5 983.3 1313.3C981.6 1316.1 980.5 1319.4 979.2 1323.3C978.0 1327.2 976.5 1332.5 975.8 1336.7C975.1 1340.9 974.6 1345.0 975.0 1348.3C975.4 1351.6 976.9 1353.6 978.3 1356.7C979.7 1359.8 982.5 1363.4 983.3 1366.7C984.1 1370.0 984.1 1373.4 983.3 1376.7C982.5 1380.0 980.8 1383.9 978.3 1386.7C975.8 1389.5 972.5 1391.4 968.3 1393.3C964.1 1395.2 958.6 1396.9 953.3 1398.3C948.0 1399.7 941.7 1400.3 936.7 1401.7C931.7 1403.1 926.1 1404.5 923.3 1406.7C920.5 1408.9 921.9 1411.6 920.0 1415.0C918.1 1418.4 915.8 1423.3 912.0 1427.0C908.2 1430.7 903.2 1435.2 897.0 1437.0C890.8 1438.8 882.0 1439.0 875.0 1438.0C868.0 1437.0 860.8 1434.3 855.0 1431.0C849.2 1427.7 843.8 1422.3 840.0 1418.0C836.2 1413.7 833.8 1408.3 832.0 1405.0C830.2 1401.7 830.9 1399.4 829.2 1398.3C827.5 1397.2 823.8 1398.6 821.7 1398.3C819.6 1398.0 817.7 1398.0 816.7 1396.7C815.7 1395.5 815.1 1392.2 815.8 1390.8C816.5 1389.4 818.6 1388.8 820.8 1388.3C823.0 1387.8 827.8 1389.4 829.2 1387.5C830.6 1385.6 828.5 1379.9 829.2 1376.7C829.9 1373.5 830.9 1370.4 833.3 1368.3C835.6 1366.2 839.7 1365.5 843.3 1364.2C846.9 1363.0 851.9 1362.6 855.0 1360.8C858.1 1359.0 858.9 1355.9 861.7 1353.3C864.5 1350.7 867.8 1347.2 871.7 1345.0C875.6 1342.8 880.3 1341.0 885.0 1340.0C889.7 1339.0 895.3 1339.6 900.0 1339.2C904.7 1338.8 909.7 1338.8 913.3 1337.5C916.9 1336.2 919.5 1334.6 921.7 1331.7C923.9 1328.8 925.3 1323.9 926.7 1320.0C928.1 1316.1 928.6 1312.2 930.0 1308.3C931.4 1304.4 932.8 1300.3 935.0 1296.7C937.2 1293.1 940.2 1289.2 943.3 1286.7C946.3 1284.2 951.1 1283.9 953.3 1281.7C955.5 1279.5 956.0 1276.9 956.7 1273.3C957.4 1269.7 957.5 1263.6 957.5 1260.0C957.5 1256.4 958.0 1253.8 956.7 1251.7C955.5 1249.6 951.4 1249.2 950.0 1247.5C948.6 1245.8 948.7 1243.8 948.3 1241.7C947.9 1239.6 946.4 1236.7 947.5 1235.0Z" fill="#000"/></g>
<path d="M258 1928.5H1999.5" fill="none" stroke="#333" stroke-width="3"/>
<path d="M258 183.5V1930.0" fill="none" stroke="#333" stroke-width="3"/>
<path d="M258 185H1998V1928.5" fill="none" stroke="#f5f5f5" stroke-width="2"/>
<path d="M258 185.0h18" stroke="#333" stroke-width="2.6"/>
<text x="241" y="200.5" font-size="49" text-anchor="end" fill="#333" textLength="152" lengthAdjust="spacingAndGlyphs" >4.6755</text>
<path d="M258 359.4h18" stroke="#333" stroke-width="2.6"/>
<text x="241" y="374.9" font-size="49" text-anchor="end" fill="#333" textLength="124" lengthAdjust="spacingAndGlyphs" >4.675</text>
<path d="M258 533.7h18" stroke="#333" stroke-width="2.6"/>
<text x="241" y="549.2" font-size="49" text-anchor="end" fill="#333" textLength="152" lengthAdjust="spacingAndGlyphs" >4.6745</text>
<path d="M258 708.0h18" stroke="#333" stroke-width="2.6"/>
<text x="241" y="723.5" font-size="49" text-anchor="end" fill="#333" textLength="124" lengthAdjust="spacingAndGlyphs" >4.674</text>
<path d="M258 882.4h18" stroke="#333" stroke-width="2.6"/>
<text x="241" y="897.9" font-size="49" text-anchor="end" fill="#333" textLength="152" lengthAdjust="spacingAndGlyphs" >4.6735</text>
<path d="M258 1056.8h18" stroke="#333" stroke-width="2.6"/>
<text x="241" y="1072.2" font-size="49" text-anchor="end" fill="#333" textLength="124" lengthAdjust="spacingAndGlyphs" >4.673</text>
<path d="M258 1231.1h18" stroke="#333" stroke-width="2.6"/>
<text x="241" y="1246.6" font-size="49" text-anchor="end" fill="#333" textLength="152" lengthAdjust="spacingAndGlyphs" >4.6725</text>
<path d="M258 1405.5h18" stroke="#333" stroke-width="2.6"/>
<text x="241" y="1421.0" font-size="49" text-anchor="end" fill="#333" textLength="124" lengthAdjust="spacingAndGlyphs" >4.672</text>
<path d="M258 1579.8h18" stroke="#333" stroke-width="2.6"/>
<text x="241" y="1595.3" font-size="49" text-anchor="end" fill="#333" textLength="152" lengthAdjust="spacingAndGlyphs" >4.6715</text>
<path d="M258 1754.1h18" stroke="#333" stroke-width="2.6"/>
<text x="241" y="1769.6" font-size="49" text-anchor="end" fill="#333" textLength="124" lengthAdjust="spacingAndGlyphs" >4.671</text>
<path d="M258 1928.5h18" stroke="#333" stroke-width="2.6"/>
<text x="241" y="1944.0" font-size="49" text-anchor="end" fill="#333" textLength="152" lengthAdjust="spacingAndGlyphs" >4.6705</text>
<path d="M258.0 1928.5v-18" stroke="#333" stroke-width="2.6"/>
<text x="263.0" y="1981" font-size="49" text-anchor="middle" fill="#333" textLength="124" lengthAdjust="spacingAndGlyphs" >5.145</text>
<path d="M432.0 1928.5v-18" stroke="#333" stroke-width="2.6"/>
<text x="437.0" y="1981" font-size="49" text-anchor="middle" fill="#333" textLength="96" lengthAdjust="spacingAndGlyphs" >5.15</text>
<path d="M606.0 1928.5v-18" stroke="#333" stroke-width="2.6"/>
<text x="611.0" y="1981" font-size="49" text-anchor="middle" fill="#333" textLength="124" lengthAdjust="spacingAndGlyphs" >5.155</text>
<path d="M780.0 1928.5v-18" stroke="#333" stroke-width="2.6"/>
<text x="785.0" y="1981" font-size="49" text-anchor="middle" fill="#333" textLength="96" lengthAdjust="spacingAndGlyphs" >5.16</text>
<path d="M954.0 1928.5v-18" stroke="#333" stroke-width="2.6"/>
<text x="959.0" y="1981" font-size="49" text-anchor="middle" fill="#333" textLength="124" lengthAdjust="spacingAndGlyphs" >5.165</text>
<path d="M1128.0 1928.5v-18" stroke="#333" stroke-width="2.6"/>
<text x="1133.0" y="1981" font-size="49" text-anchor="middle" fill="#333" textLength="96" lengthAdjust="spacingAndGlyphs" >5.17</text>
<path d="M1302.0 1928.5v-18" stroke="#333" stroke-width="2.6"/>
<text x="1307.0" y="1981" font-size="49" text-anchor="middle" fill="#333" textLength="124" lengthAdjust="spacingAndGlyphs" >5.175</text>
<path d="M1476.0 1928.5v-18" stroke="#333" stroke-width="2.6"/>
<text x="1481.0" y="1981" font-size="49" text-anchor="middle" fill="#333" textLength="96" lengthAdjust="spacingAndGlyphs" >5.18</text>
<path d="M1650.0 1928.5v-18" stroke="#333" stroke-width="2.6"/>
<text x="1655.0" y="1981" font-size="49" text-anchor="middle" fill="#333" textLength="124" lengthAdjust="spacingAndGlyphs" >5.185</text>
<path d="M1824.0 1928.5v-18" stroke="#333" stroke-width="2.6"/>
<text x="1829.0" y="1981" font-size="49" text-anchor="middle" fill="#333" textLength="96" lengthAdjust="spacingAndGlyphs" >5.19</text>
<path d="M1998.0 1928.5v-18" stroke="#333" stroke-width="2.6"/>
<text x="2003.0" y="1981" font-size="49" text-anchor="middle" fill="#333" textLength="124" lengthAdjust="spacingAndGlyphs" >5.195</text>
<text x="258" y="165" font-size="39" text-anchor="start" fill="#333" textLength="72" lengthAdjust="spacingAndGlyphs" >x 10</text>
<text x="342" y="137" font-size="22" text-anchor="start" fill="#333" >6</text>
<text x="1898" y="2058" font-size="39" text-anchor="start" fill="#333" textLength="72" lengthAdjust="spacingAndGlyphs" >x 10</text>
<text x="1978" y="2032" font-size="22" text-anchor="start" fill="#333" >5</text>
<text x="368" y="134" font-size="124" text-anchor="start" fill="#000" textLength="60" lengthAdjust="spacingAndGlyphs" >a</text>
<g transform="translate(74.5,1204) rotate(-90)">
<text x="0" y="0" font-size="44" text-anchor="start" fill="#333" textLength="232" lengthAdjust="spacingAndGlyphs" >y coordinate</text>
<text x="244" y="0" font-size="66" text-anchor="start" fill="#333" >→</text>
</g>
<text x="980" y="2035" font-size="44" text-anchor="start" fill="#333" textLength="231" lengthAdjust="spacingAndGlyphs" >x coordinate</text>
<text x="1226" y="2035" font-size="64" text-anchor="start" fill="#333" >→</text>
<rect x="2066.5" y="184.50" width="90.0" height="27.85" fill="#a90328"/>
<rect x="2066.5" y="211.75" width="90.0" height="27.85" fill="#b20a2b"/>
<rect x="2066.5" y="239.00" width="90.0" height="27.85" fill="#ba102e"/>
<rect x="2066.5" y="266.25" width="90.0" height="27.85" fill="#c41630"/>
<rect x="2066.5" y="293.50" width="90.0" height="27.85" fill="#d01930"/>
<rect x="2066.5" y="320.75" width="90.0" height="27.85" fill="#dd1d2f"/>
<rect x="2066.5" y="348.00" width="90.0" height="27.85" fill="#e9202f"/>
<rect x="2066.5" y="375.25" width="90.0" height="27.85" fill="#ee2432"/>
<rect x="2066.5" y="402.50" width="90.0" height="27.85" fill="#f42935"/>
<rect x="2066.5" y="429.75" width="90.0" height="27.85" fill="#f92d38"/>
<rect x="2066.5" y="457.00" width="90.0" height="27.85" fill="#fa383c"/>
<rect x="2066.5" y="484.25" width="90.0" height="27.85" fill="#fb4540"/>
<rect x="2066.5" y="511.50" width="90.0" height="27.85" fill="#fb5144"/>
<rect x="2066.5" y="538.75" width="90.0" height="27.85" fill="#fb5d48"/>
<rect x="2066.5" y="566.00" width="90.0" height="27.85" fill="#fc694e"/>
<rect x="2066.5" y="593.25" width="90.0" height="27.85" fill="#fc7452"/>
<rect x="2066.5" y="620.50" width="90.0" height="27.85" fill="#fc8058"/>
<rect x="2066.5" y="647.75" width="90.0" height="27.85" fill="#fc8c5c"/>
<rect x="2066.5" y="675.00" width="90.0" height="27.85" fill="#fd9862"/>
<rect x="2066.5" y="702.25" width="90.0" height="27.85" fill="#fda468"/>
<rect x="2066.5" y="729.50" width="90.0" height="27.85" fill="#fdb072"/>
<rect x="2066.5" y="756.75" width="90.0" height="27.85" fill="#fdbd7d"/>
<rect x="2066.5" y="784.00" width="90.0" height="27.85" fill="#fdc987"/>
<rect x="2066.5" y="811.25" width="90.0" height="27.85" fill="#fdd290"/>
<rect x="2066.5" y="838.50" width="90.0" height="27.85" fill="#fedc9a"/>
<rect x="2066.5" y="865.75" width="90.0" height="27.85" fill="#fee5a3"/>
<rect x="2066.5" y="893.00" width="90.0" height="27.85" fill="#feeaae"/>
<rect x="2066.5" y="920.25" width="90.0" height="27.85" fill="#fff0b9"/>
<rect x="2066.5" y="947.50" width="90.0" height="27.85" fill="#fff4c5"/>
<rect x="2066.5" y="974.75" width="90.0" height="27.85" fill="#fdf8d1"/>
<rect x="2066.5" y="1002.00" width="90.0" height="27.85" fill="#fbfbdd"/>
<rect x="2066.5" y="1029.25" width="90.0" height="27.85" fill="#f9feea"/>
<rect x="2066.5" y="1056.50" width="90.0" height="27.85" fill="#f4fff2"/>
<rect x="2066.5" y="1083.75" width="90.0" height="27.85" fill="#edfef6"/>
<rect x="2066.5" y="1111.00" width="90.0" height="27.85" fill="#e5fdf9"/>
<rect x="2066.5" y="1138.25" width="90.0" height="27.85" fill="#dcfbfc"/>
<rect x="2066.5" y="1165.50" width="90.0" height="27.85" fill="#d0f7fb"/>
<rect x="2066.5" y="1192.75" width="90.0" height="27.85" fill="#c3f3fb"/>
<rect x="2066.5" y="1220.00" width="90.0" height="27.85" fill="#b7effa"/>
<rect x="2066.5" y="1247.25" width="90.0" height="27.85" fill="#aae9f9"/>
<rect x="2066.5" y="1274.50" width="90.0" height="27.85" fill="#9ee3f9"/>
<rect x="2066.5" y="1301.75" width="90.0" height="27.85" fill="#91ddf8"/>
<rect x="2066.5" y="1329.00" width="90.0" height="27.85" fill="#87d6f8"/>
<rect x="2066.5" y="1356.25" width="90.0" height="27.85" fill="#7dd0f8"/>
<rect x="2066.5" y="1383.50" width="90.0" height="27.85" fill="#73caf8"/>
<rect x="2066.5" y="1410.75" width="90.0" height="27.85" fill="#6bc2f8"/>
<rect x="2066.5" y="1438.00" width="90.0" height="27.85" fill="#63b9f8"/>
<rect x="2066.5" y="1465.25" width="90.0" height="27.85" fill="#5cb0f8"/>
<rect x="2066.5" y="1492.50" width="90.0" height="27.85" fill="#54a8f8"/>
<rect x="2066.5" y="1519.75" width="90.0" height="27.85" fill="#4d9ff7"/>
<rect x="2066.5" y="1547.00" width="90.0" height="27.85" fill="#4596f6"/>
<rect x="2066.5" y="1574.25" width="90.0" height="27.85" fill="#3e8cf5"/>
<rect x="2066.5" y="1601.50" width="90.0" height="27.85" fill="#3980f5"/>
<rect x="2066.5" y="1628.75" width="90.0" height="27.85" fill="#3473f5"/>
<rect x="2066.5" y="1656.00" width="90.0" height="27.85" fill="#3066f5"/>
<rect x="2066.5" y="1683.25" width="90.0" height="27.85" fill="#2c58f3"/>
<rect x="2066.5" y="1710.50" width="90.0" height="27.85" fill="#2948f2"/>
<rect x="2066.5" y="1737.75" width="90.0" height="27.85" fill="#253af0"/>
<rect x="2066.5" y="1765.00" width="90.0" height="27.85" fill="#242fec"/>
<rect x="2066.5" y="1792.25" width="90.0" height="27.85" fill="#2225e6"/>
<rect x="2066.5" y="1819.50" width="90.0" height="27.85" fill="#201be2"/>
<rect x="2066.5" y="1846.75" width="90.0" height="27.85" fill="#2015db"/>
<rect x="2066.5" y="1874.00" width="90.0" height="27.85" fill="#2110d3"/>
<rect x="2066.5" y="1901.25" width="90.0" height="27.85" fill="#220acc"/>
<rect x="2066.5" y="184.5" width="90.0" height="1744.0" fill="none" stroke="#222" stroke-width="2.6"/>
<text x="2170" y="200.5" font-size="49" text-anchor="start" fill="#333" textLength="66" lengthAdjust="spacingAndGlyphs" >0.5</text>
<path d="M2066.5 358.9h18M2156.5 358.9h-18" stroke="#222" stroke-width="3.5"/>
<text x="2170" y="374.9" font-size="49" text-anchor="start" fill="#333" textLength="66" lengthAdjust="spacingAndGlyphs" >0.4</text>
<path d="M2066.5 533.3h18M2156.5 533.3h-18" stroke="#222" stroke-width="3.5"/>
<text x="2170" y="549.3" font-size="49" text-anchor="start" fill="#333" textLength="66" lengthAdjust="spacingAndGlyphs" >0.3</text>
<path d="M2066.5 707.7h18M2156.5 707.7h-18" stroke="#222" stroke-width="3.5"/>
<text x="2170" y="723.7" font-size="49" text-anchor="start" fill="#333" textLength="66" lengthAdjust="spacingAndGlyphs" >0.2</text>
<path d="M2066.5 882.1h18M2156.5 882.1h-18" stroke="#222" stroke-width="3.5"/>
<text x="2170" y="898.1" font-size="49" text-anchor="start" fill="#333" textLength="66" lengthAdjust="spacingAndGlyphs" >0.1</text>
<path d="M2066.5 1056.5h18M2156.5 1056.5h-18" stroke="#222" stroke-width="3.5"/>
<text x="2170" y="1072.5" font-size="49" text-anchor="start" fill="#333" >0</text>
<path d="M2066.5 1230.9h18M2156.5 1230.9h-18" stroke="#222" stroke-width="3.5"/>
<text x="2171" y="1246.9" font-size="49" text-anchor="start" fill="#333" textLength="95" lengthAdjust="spacingAndGlyphs" >−0.1</text>
<path d="M2066.5 1405.3h18M2156.5 1405.3h-18" stroke="#222" stroke-width="3.5"/>
<text x="2171" y="1421.3" font-size="49" text-anchor="start" fill="#333" textLength="95" lengthAdjust="spacingAndGlyphs" >−0.2</text>
<path d="M2066.5 1579.7h18M2156.5 1579.7h-18" stroke="#222" stroke-width="3.5"/>
<text x="2171" y="1595.7" font-size="49" text-anchor="start" fill="#333" textLength="95" lengthAdjust="spacingAndGlyphs" >−0.3</text>
<path d="M2066.5 1754.1h18M2156.5 1754.1h-18" stroke="#222" stroke-width="3.5"/>
<text x="2171" y="1770.1" font-size="49" text-anchor="start" fill="#333" textLength="95" lengthAdjust="spacingAndGlyphs" >−0.4</text>
<text x="2171" y="1944.5" font-size="49" text-anchor="start" fill="#333" textLength="95" lengthAdjust="spacingAndGlyphs" >−0.5</text>
<g transform="translate(0,0)">
<path d="M1907 199L1853 313L1906 258Z" fill="#fff" stroke="#000" stroke-width="3" stroke-linejoin="miter"/>
<path d="M1907 197L1962 314L1906 257Z" fill="#000" stroke="#000" stroke-width="1"/>
<text x="1906" y="353.5" font-size="52" text-anchor="middle" fill="#000" textLength="41" lengthAdjust="spacingAndGlyphs" >N</text>
</g>
<path d="M1557 1885H1941" stroke="#222" stroke-width="5.5"/>
<text x="1757" y="1870" font-size="58" text-anchor="middle" fill="#111" textLength="130" lengthAdjust="spacingAndGlyphs" >1 km</text>
<path d="M1677 1058L1824.6 1490.7" stroke="#111" stroke-width="4.5"/>
<text x="1719" y="1584.7" font-size="86" text-anchor="start" fill="#111" textLength="205" lengthAdjust="spacingAndGlyphs" >Samil</text>
<g shape-rendering="geometricPrecision"><clipPath id="dom2126"><polygon points="325.0,3184.0 1551.0,2403.0 1951.0,2985.0 1848.0,3066.0 1820.0,3106.0 1845.0,3156.0 1750.0,3256.0 1690.0,3356.0 1490.0,3526.0 1440.0,3551.0 1455.0,3581.0 895.0,4014.0"/></clipPath>
<polygon points="325.0,3184.0 1551.0,2403.0 1951.0,2985.0 1848.0,3066.0 1820.0,3106.0 1845.0,3156.0 1750.0,3256.0 1690.0,3356.0 1490.0,3526.0 1440.0,3551.0 1455.0,3581.0 895.0,4014.0" fill="#fafdf3" stroke="#fafdf3" stroke-width="0.7"/>
<g clip-path="url(#dom2126)">
<path d="M428 3365L475 3333L499 3368L452 3401ZM641 3678L688 3645L712 3680L665 3713ZM665 3712L712 3680L736 3715L688 3748ZM688 3747L736 3715L760 3750L712 3782ZM712 3782L759 3749L783 3784L736 3817ZM736 3816L783 3784L807 3819L759 3852ZM451 3299L499 3266L523 3301L475 3334ZM475 3333L522 3301L546 3336L499 3368ZM688 3646L735 3613L759 3648L712 3681ZM712 3680L759 3648L783 3683L736 3715ZM735 3715L783 3683L807 3718L759 3750ZM759 3750L806 3717L830 3752L783 3785ZM783 3784L830 3752L854 3787L807 3819ZM498 3266L546 3234L570 3269L522 3302ZM711 3579L759 3546L783 3581L735 3614ZM735 3613L783 3581L806 3616L759 3649ZM759 3648L806 3616L830 3651L783 3683ZM782 3683L830 3650L854 3686L806 3718ZM806 3718L854 3685L877 3720L830 3753ZM522 3200L569 3167L593 3202L546 3235ZM758 3547L806 3514L830 3549L782 3582ZM782 3581L830 3549L854 3584L806 3616ZM806 3616L853 3584L877 3619L830 3651ZM829 3651L877 3618L901 3653L853 3686ZM853 3685L901 3653L925 3688L877 3721ZM782 3480L829 3447L853 3483L806 3515ZM806 3515L853 3482L877 3517L830 3550ZM853 3584L900 3552L924 3587L877 3619ZM877 3619L924 3586L948 3621L901 3654ZM829 3448L876 3415L900 3450L853 3483ZM900 3552L947 3519L971 3554L924 3587ZM971 3656L1018 3623L1042 3659L995 3691ZM781 3277L829 3244L853 3279L805 3312ZM994 3589L1042 3557L1066 3592L1018 3624ZM1018 3624L1066 3591L1090 3626L1042 3659ZM805 3210L852 3178L876 3213L829 3245ZM1018 3522L1065 3490L1089 3525L1042 3557ZM1041 3557L1089 3525L1113 3560L1065 3592ZM1065 3592L1113 3559L1137 3594L1089 3627ZM1089 3626L1136 3594L1160 3629L1113 3661ZM1112 3661L1160 3629L1184 3664L1136 3696ZM828 3143L876 3111L900 3146L852 3178ZM852 3178L899 3145L923 3181L876 3213ZM1065 3490L1112 3458L1136 3493L1089 3525ZM1089 3525L1136 3492L1160 3528L1113 3560ZM1112 3560L1160 3527L1184 3562L1136 3595ZM1136 3594L1183 3562L1207 3597L1160 3629ZM875 3111L923 3079L947 3114L899 3146ZM1088 3423L1136 3391L1160 3426L1112 3458ZM1112 3458L1159 3426L1183 3461L1136 3493ZM1136 3493L1183 3460L1207 3495L1160 3528ZM1159 3527L1207 3495L1231 3530L1183 3563ZM1183 3562L1230 3530L1254 3565L1207 3597ZM899 3044L946 3012L970 3047L923 3079ZM1112 3356L1159 3324L1183 3359L1136 3392ZM1135 3391L1183 3359L1207 3394L1159 3426ZM1159 3426L1207 3393L1231 3429L1183 3461ZM1183 3461L1230 3428L1254 3463L1207 3496ZM1206 3495L1254 3463L1278 3498L1230 3530ZM1159 3324L1206 3292L1230 3327L1183 3359ZM1183 3359L1230 3327L1254 3362L1206 3394ZM1206 3394L1254 3361L1278 3396L1230 3429ZM1230 3428L1277 3396L1301 3431L1254 3464ZM1254 3463L1301 3431L1325 3466L1277 3498ZM1182 3258L1230 3225L1254 3260L1206 3293ZM1206 3292L1253 3260L1277 3295L1230 3327ZM1277 3396L1324 3364L1348 3399L1301 3431ZM1158 3121L1206 3089L1230 3124L1182 3156ZM1371 3434L1419 3401L1443 3436L1395 3469ZM1395 3468L1443 3436L1466 3471L1419 3503ZM1182 3055L1229 3022L1253 3057L1206 3090ZM1395 3367L1442 3334L1466 3369L1419 3402ZM1418 3401L1466 3369L1490 3404L1442 3437ZM1442 3436L1490 3404L1514 3439L1466 3471ZM1205 2988L1253 2955L1277 2990L1229 3023ZM1229 3022L1276 2990L1300 3025L1253 3058ZM1418 3300L1466 3268L1490 3303L1442 3335ZM1442 3335L1489 3302L1513 3337L1466 3370ZM1466 3369L1513 3337L1537 3372L1489 3404ZM1489 3404L1537 3372L1561 3407L1513 3439ZM1513 3439L1560 3406L1584 3441L1537 3474ZM1229 2921L1276 2888L1300 2924L1253 2956ZM1252 2956L1300 2923L1324 2958L1276 2991ZM1465 3268L1513 3235L1537 3271L1489 3303ZM1489 3303L1536 3270L1560 3305L1513 3338ZM1513 3337L1560 3305L1584 3340L1537 3372ZM1536 3372L1584 3340L1608 3375L1560 3407ZM1276 2889L1323 2856L1347 2891L1300 2924ZM1489 3201L1536 3169L1560 3204L1513 3236ZM1512 3236L1560 3203L1584 3238L1536 3271ZM1536 3270L1584 3238L1607 3273L1560 3306ZM1560 3305L1607 3273L1631 3308L1584 3340ZM1583 3340L1631 3307L1655 3343L1607 3375ZM1536 3169L1583 3137L1607 3172L1560 3204ZM1559 3204L1607 3171L1631 3206L1583 3239ZM1607 3273L1654 3241L1678 3276L1631 3308ZM1488 2998L1536 2966L1560 3001L1512 3033ZM1559 3102L1607 3070L1631 3105L1583 3137ZM1583 3137L1630 3104L1654 3139L1607 3172ZM1654 3241L1701 3208L1725 3244L1678 3276ZM1275 2584L1322 2552L1346 2587L1299 2619ZM1512 2931L1559 2899L1583 2934L1536 2966ZM1535 2966L1583 2933L1607 2969L1559 3001ZM1322 2552L1370 2520L1393 2555L1346 2587ZM1535 2864L1583 2832L1606 2867L1559 2899ZM1559 2899L1606 2867L1630 2902L1583 2934ZM1582 2934L1630 2901L1654 2936L1606 2969ZM1369 2520L1417 2488L1441 2523L1393 2555ZM1558 2798L1606 2765L1630 2800L1582 2833ZM1582 2832L1630 2800L1654 2835L1606 2867ZM1606 2867L1653 2835L1677 2870L1630 2902ZM1795 3145L1843 3112L1867 3147L1819 3180ZM1606 2765L1653 2733L1677 2768L1629 2801ZM1629 2800L1677 2768L1701 2803L1653 2835ZM1677 2870L1724 2837L1748 2872L1700 2905ZM1653 2733L1700 2701L1724 2736L1677 2768ZM1676 2666L1724 2634L1748 2669L1700 2702Z" fill="#f3fcf9"/>
<path d="M310 3192L357 3160L381 3195L333 3227ZM333 3227L381 3194L405 3229L357 3262ZM546 3539L594 3507L618 3542L570 3574ZM570 3574L617 3541L641 3576L594 3609ZM783 3886L830 3853L854 3889L807 3921ZM807 3921L854 3888L878 3923L830 3956ZM830 3955L878 3923L902 3958L854 3990ZM854 3990L901 3958L925 3993L878 4025ZM357 3160L404 3127L428 3163L381 3195ZM380 3195L428 3162L452 3197L404 3230ZM570 3472L617 3440L641 3475L594 3507ZM593 3507L641 3474L665 3509L617 3542ZM806 3819L854 3787L878 3822L830 3854ZM830 3854L877 3821L901 3856L854 3889ZM854 3888L901 3856L925 3891L878 3924ZM877 3923L925 3891L949 3926L901 3958ZM901 3958L948 3925L972 3961L925 3993ZM404 3128L451 3095L475 3130L428 3163ZM593 3405L641 3373L664 3408L617 3440ZM617 3440L664 3408L688 3443L641 3475ZM640 3475L688 3442L712 3477L664 3510ZM853 3787L901 3755L925 3790L877 3822ZM877 3822L925 3789L949 3824L901 3857ZM901 3856L948 3824L972 3859L925 3891ZM924 3891L972 3859L996 3894L948 3926ZM640 3373L688 3341L712 3376L664 3408ZM664 3408L711 3375L735 3411L688 3443ZM948 3824L995 3792L1019 3827L972 3859ZM664 3306L711 3274L735 3309L687 3341ZM687 3341L735 3309L759 3344L711 3376ZM995 3792L1042 3760L1066 3795L1019 3827ZM616 3135L663 3103L687 3138L640 3171ZM640 3170L687 3138L711 3173L664 3205ZM711 3274L758 3242L782 3277L735 3309ZM1089 3829L1137 3797L1161 3832L1113 3864ZM639 3069L687 3036L711 3071L663 3104ZM663 3103L711 3071L734 3106L687 3138ZM1113 3763L1160 3730L1184 3765L1137 3798ZM1136 3797L1184 3765L1208 3800L1160 3832ZM663 3002L710 2969L734 3005L687 3037ZM686 3036L734 3004L758 3039L710 3072ZM710 3071L758 3039L782 3074L734 3106ZM923 3383L971 3351L995 3386L947 3419ZM1160 3730L1207 3698L1231 3733L1184 3766ZM710 2970L757 2937L781 2972L734 3005ZM734 3004L781 2972L805 3007L758 3039ZM757 3039L805 3007L829 3042L781 3074ZM947 3317L994 3284L1018 3319L971 3352ZM970 3351L1018 3319L1042 3354L994 3386ZM1183 3664L1231 3631L1255 3666L1207 3699ZM1207 3698L1254 3666L1278 3701L1231 3733ZM733 2903L781 2870L805 2906L757 2938ZM757 2938L804 2905L828 2940L781 2973ZM781 2972L828 2940L852 2975L805 3007ZM804 3007L852 2975L876 3010L828 3042ZM970 3250L1017 3217L1041 3253L994 3285ZM994 3285L1041 3252L1065 3287L1018 3320ZM1230 3631L1278 3599L1302 3634L1254 3667ZM1254 3666L1302 3634L1325 3669L1278 3701ZM780 2871L828 2838L852 2873L804 2906ZM804 2905L852 2873L876 2908L828 2941ZM851 2975L899 2942L923 2978L875 3010ZM1017 3218L1065 3185L1089 3220L1041 3253ZM1041 3252L1088 3220L1112 3255L1065 3288ZM1254 3565L1301 3532L1325 3567L1278 3600ZM1277 3599L1325 3567L1349 3602L1301 3634ZM1301 3634L1349 3602L1373 3637L1325 3669ZM898 2943L946 2910L970 2945L922 2978ZM1040 3151L1088 3118L1112 3154L1064 3186ZM1064 3186L1112 3153L1136 3188L1088 3221ZM1348 3602L1396 3570L1420 3605L1372 3637ZM922 2876L969 2843L993 2879L946 2911ZM993 2980L1040 2948L1064 2983L1017 3015ZM1016 2913L1064 2881L1088 2916L1040 2948ZM1040 2948L1087 2915L1111 2951L1064 2983ZM1040 2846L1087 2814L1111 2849L1064 2881ZM1063 2881L1111 2849L1135 2884L1087 2916ZM1087 2916L1135 2883L1159 2918L1111 2951ZM1300 3228L1348 3196L1372 3231L1324 3263ZM1063 2780L1111 2747L1135 2782L1087 2815ZM1087 2814L1134 2782L1158 2817L1111 2849ZM1111 2849L1158 2817L1182 2852L1134 2884ZM1134 2884L1182 2851L1206 2886L1158 2919ZM1324 3161L1371 3129L1395 3164L1347 3196ZM1347 3196L1395 3163L1419 3199L1371 3231ZM1110 2747L1158 2715L1182 2750L1134 2783ZM1134 2782L1181 2750L1205 2785L1158 2817ZM1158 2817L1205 2784L1229 2820L1182 2852ZM1181 2851L1229 2819L1253 2854L1205 2887ZM1347 3094L1394 3062L1418 3097L1371 3129ZM1371 3129L1418 3097L1442 3132L1395 3164ZM1134 2681L1181 2648L1205 2683L1158 2716ZM1157 2715L1205 2683L1229 2718L1181 2750ZM1181 2750L1229 2718L1252 2753L1205 2785ZM1205 2785L1252 2752L1276 2787L1229 2820ZM1228 2819L1276 2787L1300 2822L1252 2854ZM1394 3062L1442 3030L1465 3065L1418 3097ZM1181 2648L1228 2616L1252 2651L1205 2684ZM1204 2683L1252 2651L1276 2686L1228 2718ZM1252 2753L1299 2720L1323 2755L1276 2788ZM1417 2995L1465 2963L1489 2998L1441 3031ZM1654 3342L1702 3310L1726 3345L1678 3378ZM1299 2720L1346 2688L1370 2723L1323 2756ZM1370 2825L1417 2792L1441 2827L1394 2860ZM1322 2654L1370 2621L1394 2656L1346 2689ZM1346 2688L1393 2656L1417 2691L1370 2723ZM1393 2758L1441 2725L1465 2760L1417 2793ZM1417 2792L1464 2760L1488 2795L1441 2828ZM1369 2621L1417 2589L1441 2624L1393 2657ZM1393 2656L1441 2624L1464 2659L1417 2691ZM1417 2691L1464 2658L1488 2694L1441 2726ZM1440 2726L1488 2693L1512 2728L1464 2761ZM1464 2760L1512 2728L1535 2763L1488 2795ZM1677 3073L1725 3040L1748 3075L1701 3108ZM1440 2624L1488 2592L1512 2627L1464 2659ZM1464 2659L1511 2626L1535 2661L1488 2694ZM1487 2693L1535 2661L1559 2696L1511 2729ZM1700 3006L1748 2973L1772 3008L1724 3041ZM1464 2557L1511 2525L1535 2560L1487 2592ZM1487 2592L1535 2560L1559 2595L1511 2627ZM1511 2627L1558 2594L1582 2629L1535 2662ZM1535 2661L1582 2629L1606 2664L1558 2696ZM1724 2939L1771 2907L1795 2942L1748 2974ZM1748 2974L1795 2941L1819 2976L1772 3009ZM1511 2525L1558 2493L1582 2528L1535 2560ZM1534 2560L1582 2527L1606 2563L1558 2595ZM1558 2595L1605 2562L1629 2597L1582 2630ZM1582 2629L1629 2597L1653 2632L1606 2664ZM1771 2907L1818 2874L1842 2909L1795 2942ZM1558 2493L1605 2461L1629 2496L1582 2528ZM1581 2528L1629 2495L1653 2530L1605 2563ZM1629 2597L1676 2565L1700 2600L1653 2632Z" fill="#fcfdec"/>
</g>
<polygon points="1630.0,2646.0 1680.8,2611.8 1700.0,2644.3 1650.0,2674.3" fill="#2a14e2" stroke="#2a14e2" stroke-width="0.7"/>
<polygon points="1650.0,2674.3 1700.0,2644.3 1720.0,2672.7 1667.5,2706.0" fill="#d41030" stroke="#d41030" stroke-width="0.7"/>
<polygon points="1561.4,3009.1 1596.9,2984.9 1618.3,3016.3 1582.7,3040.5" fill="#fff5d8" stroke="#fff5d8" stroke-width="0.7"/>
<polygon points="1596.9,2984.9 1639.9,2955.7 1661.3,2987.1 1618.3,3016.3" fill="#2509cc" stroke="#2509cc" stroke-width="0.7"/>
<polygon points="1639.9,2955.7 1678.0,2929.8 1699.3,2961.3 1661.3,2987.1" fill="#ae0526" stroke="#ae0526" stroke-width="0.7"/>
<polygon points="1551.3,3061.9 1582.7,3040.5 1604.1,3071.9 1572.6,3093.3" fill="#fff8e4" stroke="#fff8e4" stroke-width="0.7"/>
<polygon points="1582.7,3040.5 1618.3,3016.3 1639.6,3047.8 1604.1,3071.9" fill="#92dcf8" stroke="#92dcf8" stroke-width="0.7"/>
<polygon points="1618.3,3016.3 1661.3,2987.1 1682.7,3018.5 1639.6,3047.8" fill="#dcf8fa" stroke="#dcf8fa" stroke-width="0.7"/>
<polygon points="1551.1,3107.9 1572.6,3093.3 1594.6,3125.6 1573.1,3140.2" fill="#fffaea" stroke="#fffaea" stroke-width="0.7"/>
<polygon points="1572.6,3093.3 1604.1,3071.9 1626.0,3104.2 1594.6,3125.6" fill="#94e2f8" stroke="#94e2f8" stroke-width="0.7"/>
<polygon points="1604.1,3071.9 1639.6,3047.8 1661.6,3080.0 1626.0,3104.2" fill="#2509cc" stroke="#2509cc" stroke-width="0.7"/>
<polygon points="1639.6,3047.8 1677.7,3021.9 1699.6,3054.2 1661.6,3080.0" fill="#ae0526" stroke="#ae0526" stroke-width="0.7"/>
<polygon points="1552.4,3154.2 1569.8,3142.4 1591.5,3173.8 1578.9,3183.7" fill="#7ccaf8" stroke="#7ccaf8" stroke-width="0.7"/>
<polygon points="1569.8,3142.4 1626.0,3104.2 1643.5,3133.2 1591.5,3173.8" fill="#2509cc" stroke="#2509cc" stroke-width="0.7"/>
<polygon points="1626.0,3104.2 1661.6,3080.0 1678.9,3105.5 1643.5,3133.2" fill="#ae0526" stroke="#ae0526" stroke-width="0.7"/>
<polygon points="1519.9,3179.6 1522.6,3177.5 1547.0,3208.6 1544.2,3210.8" fill="#78b8f0" stroke="#78b8f0" stroke-width="0.7"/>
<polygon points="1381.1,3338.2 1399.2,3324.0 1424.1,3356.0 1406.0,3370.1" fill="#2509cc" stroke="#2509cc" stroke-width="0.7"/>
<polygon points="1399.2,3324.0 1423.6,3305.0 1448.6,3336.9 1424.1,3356.0" fill="#a8e8fa" stroke="#a8e8fa" stroke-width="0.7"/>
<polygon points="1423.6,3305.0 1443.3,3289.6 1468.3,3321.5 1448.6,3336.9" fill="#bcf0fa" stroke="#bcf0fa" stroke-width="0.7"/>
<polygon points="1499.3,3245.8 1507.2,3239.7 1532.1,3271.6 1524.2,3277.8" fill="#d8f6fb" stroke="#d8f6fb" stroke-width="0.7"/>
<polygon points="1507.2,3239.7 1515.0,3233.5 1540.0,3265.4 1532.1,3271.6" fill="#b0eafa" stroke="#b0eafa" stroke-width="0.7"/>
<polygon points="1515.0,3233.5 1522.9,3227.4 1547.9,3259.3 1540.0,3265.4" fill="#86d4f8" stroke="#86d4f8" stroke-width="0.7"/>
<polygon points="1522.9,3227.4 1530.8,3221.2 1555.7,3253.1 1547.9,3259.3" fill="#5aa8f5" stroke="#5aa8f5" stroke-width="0.7"/>
<polygon points="1530.8,3221.2 1538.7,3215.1 1563.6,3247.0 1555.7,3253.1" fill="#3468ee" stroke="#3468ee" stroke-width="0.7"/>
<polygon points="1538.7,3215.1 1589.9,3175.0 1614.8,3207.0 1563.6,3247.0" fill="#2509cc" stroke="#2509cc" stroke-width="0.7"/>
<polygon points="1589.9,3175.0 1614.3,3156.0 1639.3,3187.9 1614.8,3207.0" fill="#f02030" stroke="#f02030" stroke-width="0.7"/>
<polygon points="1614.3,3156.0 1643.5,3133.2 1668.4,3165.1 1639.3,3187.9" fill="#ae0526" stroke="#ae0526" stroke-width="0.7"/>
<polygon points="1468.3,3321.5 1487.2,3306.7 1511.8,3338.2 1492.9,3353.0" fill="#3478f2" stroke="#3478f2" stroke-width="0.7"/>
<polygon points="1487.2,3306.7 1506.9,3291.3 1531.5,3322.8 1511.8,3338.2" fill="#2844e8" stroke="#2844e8" stroke-width="0.7"/>
<polygon points="1506.9,3291.3 1566.0,3245.1 1590.6,3276.7 1531.5,3322.8" fill="#2509cc" stroke="#2509cc" stroke-width="0.7"/>
<polygon points="1566.0,3245.1 1569.9,3242.1 1594.5,3273.6 1590.6,3276.7" fill="#fff4dc" stroke="#fff4dc" stroke-width="0.7"/>
<polygon points="1569.9,3242.1 1575.4,3237.7 1600.1,3269.3 1594.5,3273.6" fill="#fc9060" stroke="#fc9060" stroke-width="0.7"/>
<polygon points="1575.4,3237.7 1603.8,3215.6 1628.4,3247.1 1600.1,3269.3" fill="#ae0526" stroke="#ae0526" stroke-width="0.7"/>
<polygon points="1603.8,3215.6 1639.3,3187.9 1663.9,3219.4 1628.4,3247.1" fill="#f84838" stroke="#f84838" stroke-width="0.7"/>
<polygon points="1473.2,3368.4 1492.9,3353.0 1518.1,3385.3 1498.4,3400.7" fill="#2a58ea" stroke="#2a58ea" stroke-width="0.7"/>
<polygon points="1492.9,3353.0 1536.2,3319.1 1561.5,3351.4 1518.1,3385.3" fill="#2509cc" stroke="#2509cc" stroke-width="0.7"/>
<polygon points="1536.2,3319.1 1556.7,3303.1 1582.0,3335.4 1561.5,3351.4" fill="#a0e2f8" stroke="#a0e2f8" stroke-width="0.7"/>
<polygon points="1556.7,3303.1 1564.6,3297.0 1589.8,3329.3 1582.0,3335.4" fill="#ffe2b8" stroke="#ffe2b8" stroke-width="0.7"/>
<polygon points="1564.6,3297.0 1596.1,3272.3 1621.4,3304.7 1589.8,3329.3" fill="#ae0526" stroke="#ae0526" stroke-width="0.7"/>
<polygon points="1596.1,3272.3 1610.3,3261.3 1635.5,3293.6 1621.4,3304.7" fill="#fdd0a0" stroke="#fdd0a0" stroke-width="0.7"/>
<polygon points="1498.4,3400.7 1559.9,3352.7 1585.8,3385.8 1524.3,3433.8" fill="#ae0526" stroke="#ae0526" stroke-width="0.7"/>
<polygon points="1547.9,3415.3 1586.5,3385.2 1611.8,3417.5 1573.2,3447.6" fill="#ae0526" stroke="#ae0526" stroke-width="0.7"/>
<polygon points="1456.7,3433.3 1466.1,3425.9 1492.0,3459.0 1482.5,3466.4" fill="#f8a070" stroke="#f8a070" stroke-width="0.7"/>
<polygon points="1466.1,3425.9 1475.6,3418.5 1501.4,3451.6 1492.0,3459.0" fill="#fdb888" stroke="#fdb888" stroke-width="0.7"/>
<polygon points="1060.0,3583.9 1090.3,3561.4 1112.0,3594.3 1081.7,3616.8" fill="#2a4cea" stroke="#2a4cea" stroke-width="0.7"/>
<polygon points="1090.3,3561.4 1120.6,3538.9 1142.3,3571.8 1112.0,3594.3" fill="#4a9af5" stroke="#4a9af5" stroke-width="0.7"/>
<polygon points="1059.9,3515.3 1108.4,3479.3 1125.8,3505.7 1077.3,3541.7" fill="#e4fafa" stroke="#e4fafa" stroke-width="0.7"/>
<polygon points="1051.4,3639.3 1081.7,3616.8 1103.4,3649.7 1073.1,3672.2" fill="#ae0526" stroke="#ae0526" stroke-width="0.7"/>
<polygon points="1081.7,3616.8 1172.6,3549.3 1194.3,3582.2 1103.4,3649.7" fill="#2509cc" stroke="#2509cc" stroke-width="0.7"/>
<polygon points="1172.6,3549.3 1202.9,3526.8 1224.6,3559.7 1194.3,3582.2" fill="#3890f5" stroke="#3890f5" stroke-width="0.7"/>
<polygon points="1202.9,3526.8 1231.7,3505.4 1253.4,3538.3 1224.6,3559.7" fill="#58b8f8" stroke="#58b8f8" stroke-width="0.7"/>
<polygon points="1231.7,3505.4 1255.9,3487.4 1277.6,3520.3 1253.4,3538.3" fill="#3a88f5" stroke="#3a88f5" stroke-width="0.7"/>
<polygon points="1073.1,3672.2 1103.4,3649.7 1125.1,3682.6 1094.8,3705.1" fill="#ae0526" stroke="#ae0526" stroke-width="0.7"/>
<polygon points="1103.4,3649.7 1133.7,3627.2 1155.4,3660.1 1125.1,3682.6" fill="#b80a28" stroke="#b80a28" stroke-width="0.7"/>
<polygon points="1133.7,3627.2 1164.0,3604.7 1185.7,3637.6 1155.4,3660.1" fill="#c8102a" stroke="#c8102a" stroke-width="0.7"/>
<polygon points="1164.0,3604.7 1194.3,3582.2 1216.0,3615.1 1185.7,3637.6" fill="#b40828" stroke="#b40828" stroke-width="0.7"/>
<polygon points="1194.3,3582.2 1277.6,3520.3 1299.3,3553.2 1216.0,3615.1" fill="#fc9a6a" stroke="#fc9a6a" stroke-width="0.7"/>
<polygon points="573.0,3573.4 620.8,3540.7 714.6,3677.6 666.7,3710.4" fill="#2509cc" stroke="#2509cc" stroke-width="0.7"/>
<polygon points="668.3,3610.0 714.5,3578.3 825.2,3740.1 779.0,3771.7" fill="#2509cc" stroke="#2509cc" stroke-width="0.7"/>
<polygon points="782.3,3677.4 867.3,3619.2 910.2,3681.9 825.2,3740.1" fill="#2509cc" stroke="#2509cc" stroke-width="0.7"/>
<polygon points="870.6,3709.0 910.2,3681.9 932.8,3714.9 893.2,3742.0" fill="#2509cc" stroke="#2509cc" stroke-width="0.7"/>
<polygon points="825.2,3740.1 870.6,3709.0 893.2,3742.0 847.8,3773.1" fill="#fca468" stroke="#fca468" stroke-width="0.7"/>
<polygon points="910.2,3681.9 951.5,3653.6 974.1,3686.6 932.8,3714.9" fill="#2234e8" stroke="#2234e8" stroke-width="0.7"/>
<polygon points="951.5,3653.6 985.3,3630.5 1007.9,3663.5 974.1,3686.6" fill="#b8f0fa" stroke="#b8f0fa" stroke-width="0.7"/>
<polygon points="867.3,3619.2 908.5,3590.9 930.0,3622.3 888.7,3650.5" fill="#fff6de" stroke="#fff6de" stroke-width="0.7"/>
<polygon points="888.7,3650.5 930.0,3622.3 951.5,3653.6 910.2,3681.9" fill="#ffeec4" stroke="#ffeec4" stroke-width="0.7"/>
<polygon points="731.1,3804.5 779.0,3771.7 801.6,3804.7 753.7,3837.5" fill="#f84040" stroke="#f84040" stroke-width="0.7"/>
<polygon points="779.0,3771.7 825.2,3740.1 847.8,3773.1 801.6,3804.7" fill="#ae0526" stroke="#ae0526" stroke-width="0.7"/>
<polygon points="753.7,3837.5 932.8,3714.9 980.8,3785.0 801.8,3907.6" fill="#ae0526" stroke="#ae0526" stroke-width="0.7"/>
<polygon points="956.5,3749.5 997.8,3721.3 1022.1,3756.8 980.8,3785.0" fill="#f02838" stroke="#f02838" stroke-width="0.7"/>
<polygon points="1055.9,3733.6 1090.6,3709.9 1115.4,3746.2 1080.8,3769.9" fill="#fff0c8" stroke="#fff0c8" stroke-width="0.7"/>
<g fill="none" stroke="#0c0c0c" stroke-width="2.7" stroke-linecap="round" stroke-linejoin="round"><path d="M1707.5 2657.0C1705.8 2658.1 1700.4 2662.4 1697.5 2663.5C1694.6 2664.6 1692.3 2662.5 1690.0 2663.5C1687.7 2664.5 1686.2 2668.9 1683.8 2669.8C1681.2 2670.6 1677.1 2667.7 1675.0 2668.5C1672.9 2669.3 1671.0 2672.2 1671.0 2674.8C1671.0 2677.2 1675.6 2680.6 1675.0 2683.5C1674.4 2686.4 1669.2 2689.1 1667.5 2692.0C1665.8 2694.9 1665.8 2698.7 1665.0 2701.0C1664.2 2703.3 1662.7 2704.2 1662.5 2706.0C1662.3 2707.8 1664.6 2709.1 1663.8 2712.0C1662.9 2714.9 1659.8 2719.5 1657.5 2723.5C1655.2 2727.5 1652.9 2731.8 1650.0 2736.0C1647.1 2740.2 1643.3 2745.0 1640.0 2748.5C1636.7 2752.0 1633.8 2754.8 1630.0 2757.0C1626.2 2759.2 1621.2 2760.9 1617.5 2762.0C1613.8 2763.1 1609.2 2763.2 1607.5 2763.5"/><path d="M1604.0 2766.0C1603.8 2766.8 1603.2 2769.3 1602.5 2771.0C1601.8 2772.7 1599.6 2774.3 1600.0 2776.0C1600.4 2777.7 1603.8 2778.5 1605.0 2781.0C1606.2 2783.5 1607.1 2786.8 1607.5 2791.0C1607.9 2795.2 1607.3 2801.4 1607.5 2806.0C1607.7 2810.6 1609.2 2815.6 1608.8 2818.5C1608.3 2821.4 1606.5 2823.3 1605.0 2823.5C1603.5 2823.7 1602.1 2820.6 1600.0 2819.8C1597.9 2818.9 1594.8 2817.9 1592.5 2818.5C1590.2 2819.1 1587.2 2821.2 1586.0 2823.5C1584.8 2825.8 1584.5 2829.5 1585.0 2832.0C1585.5 2834.5 1587.2 2837.8 1588.8 2838.5C1590.2 2839.2 1592.8 2837.6 1594.0 2836.0C1595.2 2834.4 1596.5 2830.8 1596.0 2829.0C1595.5 2827.2 1592.5 2824.8 1591.0 2825.0C1589.5 2825.2 1588.4 2827.5 1587.0 2830.0C1585.6 2832.5 1584.1 2836.9 1582.5 2839.8C1580.9 2842.6 1577.9 2844.5 1577.5 2847.0C1577.1 2849.5 1578.3 2852.6 1580.0 2854.8C1581.7 2856.9 1584.8 2858.9 1587.5 2859.8C1590.2 2860.6 1593.3 2860.6 1596.0 2859.8C1598.7 2858.9 1601.8 2856.9 1603.8 2854.8C1605.7 2852.6 1605.8 2848.5 1607.5 2847.0C1609.2 2845.5 1611.5 2845.3 1613.8 2846.0C1616.0 2846.7 1618.7 2848.5 1621.0 2851.0C1623.3 2853.5 1625.4 2856.8 1627.5 2861.0C1629.6 2865.2 1632.1 2870.2 1633.8 2876.0C1635.4 2881.8 1636.5 2889.3 1637.5 2896.0C1638.5 2902.7 1639.0 2908.9 1640.0 2916.0C1641.0 2923.1 1642.1 2929.3 1643.8 2938.5C1645.4 2947.7 1648.0 2961.4 1650.0 2971.0C1652.0 2980.6 1654.5 2987.7 1656.0 2996.0C1657.5 3004.3 1658.5 3012.7 1658.8 3021.0C1659.0 3029.3 1658.3 3036.4 1657.5 3046.0C1656.7 3055.6 1655.2 3068.5 1653.8 3078.5C1652.3 3088.5 1650.6 3097.2 1648.8 3106.0C1646.9 3114.8 1645.2 3121.4 1642.5 3131.0C1639.8 3140.6 1636.2 3152.2 1632.5 3163.5C1628.8 3174.8 1624.6 3186.4 1620.0 3198.5C1615.4 3210.6 1609.6 3224.3 1605.0 3236.0C1600.4 3247.7 1595.8 3258.5 1592.5 3268.5C1589.2 3278.5 1587.5 3287.2 1585.0 3296.0C1582.5 3304.8 1580.0 3313.9 1577.5 3321.0C1575.0 3328.1 1572.9 3332.2 1570.0 3338.5C1567.1 3344.8 1563.5 3352.4 1560.0 3358.5C1556.5 3364.6 1552.7 3371.2 1549.0 3375.0C1545.3 3378.8 1542.7 3379.0 1538.0 3381.5C1533.3 3384.0 1527.2 3386.5 1521.0 3390.0C1514.8 3393.5 1507.0 3398.3 1501.0 3402.5C1495.0 3406.7 1488.8 3410.8 1485.0 3415.0C1481.2 3419.2 1479.7 3423.7 1478.0 3428.0C1476.3 3432.3 1475.9 3437.2 1475.0 3441.0C1474.1 3444.8 1475.0 3448.3 1472.5 3451.0C1470.0 3453.7 1464.6 3454.7 1460.0 3457.0C1455.4 3459.3 1450.4 3462.2 1445.0 3464.8C1439.6 3467.2 1432.1 3469.1 1427.5 3472.0C1422.9 3474.9 1421.2 3478.7 1417.5 3482.0C1413.8 3485.3 1409.2 3489.7 1405.0 3492.0C1400.8 3494.3 1395.7 3495.8 1392.5 3496.0C1389.3 3496.2 1388.1 3493.1 1386.0 3493.5C1383.9 3493.9 1381.4 3496.0 1380.0 3498.5C1378.6 3501.0 1379.2 3505.0 1377.5 3508.5C1375.8 3512.0 1373.8 3515.8 1370.0 3519.8C1366.2 3523.7 1359.6 3528.9 1355.0 3532.0C1350.4 3535.1 1347.9 3536.2 1342.5 3538.5C1337.1 3540.8 1328.3 3545.0 1322.5 3546.0C1316.7 3547.0 1311.2 3546.2 1307.5 3544.8C1303.8 3543.2 1301.7 3540.0 1300.0 3537.0C1298.3 3534.0 1298.8 3528.4 1297.5 3527.0C1296.2 3525.6 1293.8 3526.2 1292.5 3528.5C1291.2 3530.8 1292.1 3537.2 1290.0 3541.0C1287.9 3544.8 1284.2 3547.2 1280.0 3551.0C1275.8 3554.8 1270.0 3559.8 1265.0 3563.5C1260.0 3567.2 1255.8 3570.4 1250.0 3573.5C1244.2 3576.6 1236.7 3579.5 1230.0 3582.0C1223.3 3584.5 1217.5 3586.2 1210.0 3588.5C1202.5 3590.8 1193.3 3593.9 1185.0 3596.0C1176.7 3598.1 1168.3 3599.3 1160.0 3601.0C1151.7 3602.7 1143.3 3604.5 1135.0 3606.0C1126.7 3607.5 1118.3 3608.5 1110.0 3609.8C1101.7 3611.0 1093.3 3612.0 1085.0 3613.5C1076.7 3615.0 1065.4 3617.7 1060.0 3618.5C1054.6 3619.3 1053.8 3618.5 1052.5 3618.5"/><path d="M1053.8 3618.5C1056.0 3619.8 1063.1 3623.1 1067.5 3626.0C1071.9 3628.9 1076.9 3632.7 1080.0 3636.0C1083.1 3639.3 1085.2 3642.2 1086.0 3646.0C1086.8 3649.8 1086.4 3655.0 1085.0 3658.5C1083.6 3662.0 1080.8 3664.8 1077.5 3667.0C1074.2 3669.2 1067.8 3669.9 1065.0 3672.0C1062.2 3674.1 1061.4 3675.8 1061.0 3679.8C1060.6 3683.8 1061.8 3691.6 1062.5 3696.0C1063.2 3700.4 1065.4 3701.0 1065.0 3706.0C1064.6 3711.0 1062.5 3719.3 1060.0 3726.0C1057.5 3732.7 1054.2 3739.8 1050.0 3746.0C1045.8 3752.2 1040.0 3758.1 1035.0 3763.5C1030.0 3768.9 1025.0 3774.6 1020.0 3778.5C1015.0 3782.4 1009.0 3784.8 1005.0 3787.0C1001.0 3789.2 997.5 3791.2 996.0 3792.0"/><path d="M985.0 3779.8C983.3 3778.5 978.3 3774.3 975.0 3772.0C971.7 3769.7 968.3 3767.4 965.0 3766.0C961.7 3764.6 957.5 3765.4 955.0 3763.5C952.5 3761.6 951.7 3756.4 950.0 3754.8C948.3 3753.1 946.2 3752.7 945.0 3753.5C943.8 3754.3 944.2 3758.9 942.5 3759.8C940.8 3760.6 937.5 3759.5 935.0 3758.5C932.5 3757.5 930.0 3756.0 927.5 3753.5C925.0 3751.0 922.1 3745.8 920.0 3743.5C917.9 3741.2 915.0 3741.2 915.0 3739.8C915.0 3738.3 917.5 3736.6 920.0 3734.8C922.5 3732.9 927.7 3730.4 930.0 3728.5C932.3 3726.6 933.1 3724.3 933.8 3723.5"/><path d="M927.5 3756.0C927.1 3758.5 926.2 3766.0 925.0 3771.0C923.8 3776.0 922.1 3781.4 920.0 3786.0C917.9 3790.6 915.0 3793.5 912.5 3798.5C910.0 3803.5 908.3 3811.0 905.0 3816.0C901.7 3821.0 897.5 3824.8 892.5 3828.5C887.5 3832.2 880.4 3835.2 875.0 3838.5C869.6 3841.8 864.6 3845.2 860.0 3848.5C855.4 3851.8 851.7 3855.2 847.5 3858.5C843.3 3861.8 839.6 3865.2 835.0 3868.5C830.4 3871.8 825.0 3876.0 820.0 3878.5C815.0 3881.0 809.2 3882.1 805.0 3883.5C800.8 3884.9 796.7 3886.4 795.0 3887.0"/><path d="M1596.0 2753.5 L1606.0 2753.5 L1607.5 2765.0 L1597.5 2766.0Z"/><path d="M996.0 3792.0 L990.0 3788.5 L985.0 3779.8"/><path d="M1054 3620L1046 3610" stroke-width="5.5"/></g><path d="M947.5 3361.0C948.6 3359.3 952.4 3358.4 955.0 3357.7C957.6 3357.0 960.8 3356.2 963.3 3356.8C965.8 3357.4 968.2 3358.9 970.0 3361.0C971.8 3363.1 973.2 3365.7 974.2 3369.3C975.2 3372.9 975.4 3377.7 975.8 3382.7C976.2 3387.7 976.4 3394.3 976.7 3399.3C977.0 3404.3 976.4 3409.6 977.5 3412.7C978.6 3415.8 981.5 3415.8 983.3 3417.7C985.1 3419.6 987.3 3421.8 988.3 3424.3C989.3 3426.8 990.0 3430.2 989.2 3432.7C988.4 3435.2 985.0 3436.5 983.3 3439.3C981.6 3442.1 980.5 3445.4 979.2 3449.3C978.0 3453.2 976.5 3458.5 975.8 3462.7C975.1 3466.9 974.6 3471.0 975.0 3474.3C975.4 3477.6 976.9 3479.6 978.3 3482.7C979.7 3485.8 982.5 3489.4 983.3 3492.7C984.1 3496.0 984.1 3499.4 983.3 3502.7C982.5 3506.0 980.8 3509.9 978.3 3512.7C975.8 3515.5 972.5 3517.4 968.3 3519.3C964.1 3521.2 958.6 3522.9 953.3 3524.3C948.0 3525.7 941.7 3526.3 936.7 3527.7C931.7 3529.1 926.1 3530.5 923.3 3532.7C920.5 3534.9 921.9 3537.6 920.0 3541.0C918.1 3544.4 915.8 3549.3 912.0 3553.0C908.2 3556.7 903.2 3561.2 897.0 3563.0C890.8 3564.8 882.0 3565.0 875.0 3564.0C868.0 3563.0 860.8 3560.3 855.0 3557.0C849.2 3553.7 843.8 3548.3 840.0 3544.0C836.2 3539.7 833.8 3534.3 832.0 3531.0C830.2 3527.7 830.9 3525.4 829.2 3524.3C827.5 3523.2 823.8 3524.6 821.7 3524.3C819.6 3524.0 817.7 3523.9 816.7 3522.7C815.7 3521.4 815.1 3518.2 815.8 3516.8C816.5 3515.4 818.6 3514.9 820.8 3514.3C823.0 3513.8 827.8 3515.4 829.2 3513.5C830.6 3511.6 828.5 3505.9 829.2 3502.7C829.9 3499.5 830.9 3496.4 833.3 3494.3C835.6 3492.2 839.7 3491.4 843.3 3490.2C846.9 3488.9 851.9 3488.6 855.0 3486.8C858.1 3485.0 858.9 3481.9 861.7 3479.3C864.5 3476.7 867.8 3473.2 871.7 3471.0C875.6 3468.8 880.3 3467.0 885.0 3466.0C889.7 3465.0 895.3 3465.6 900.0 3465.2C904.7 3464.8 909.7 3464.8 913.3 3463.5C916.9 3462.2 919.5 3460.6 921.7 3457.7C923.9 3454.8 925.3 3449.9 926.7 3446.0C928.1 3442.1 928.6 3438.2 930.0 3434.3C931.4 3430.4 932.8 3426.3 935.0 3422.7C937.2 3419.1 940.2 3415.2 943.3 3412.7C946.3 3410.2 951.1 3409.9 953.3 3407.7C955.5 3405.5 956.0 3402.9 956.7 3399.3C957.4 3395.7 957.5 3389.6 957.5 3386.0C957.5 3382.4 958.0 3379.8 956.7 3377.7C955.5 3375.6 951.4 3375.2 950.0 3373.5C948.6 3371.8 948.7 3369.8 948.3 3367.7C947.9 3365.6 946.4 3362.7 947.5 3361.0Z" fill="#000"/></g>
<path d="M256.5 4053.5H1999.5" fill="none" stroke="#444" stroke-width="2.8"/>
<path d="M256.5 2309.0V4054.9" fill="none" stroke="#666" stroke-width="4.5"/>
<path d="M256.5 2310.5H1998V4053.5" fill="none" stroke="#f5f5f5" stroke-width="2"/>
<path d="M256.5 2310.5h18" stroke="#444" stroke-width="2.6"/>
<text x="256" y="2326.0" font-size="49" text-anchor="end" fill="#333" textLength="148" lengthAdjust="spacingAndGlyphs" >4.6755</text>
<path d="M256.5 2484.8h18" stroke="#444" stroke-width="2.6"/>
<text x="256" y="2500.3" font-size="49" text-anchor="end" fill="#333" textLength="121" lengthAdjust="spacingAndGlyphs" >4.675</text>
<path d="M256.5 2659.1h18" stroke="#444" stroke-width="2.6"/>
<text x="256" y="2674.6" font-size="49" text-anchor="end" fill="#333" textLength="148" lengthAdjust="spacingAndGlyphs" >4.6745</text>
<path d="M256.5 2833.4h18" stroke="#444" stroke-width="2.6"/>
<text x="256" y="2848.9" font-size="49" text-anchor="end" fill="#333" textLength="121" lengthAdjust="spacingAndGlyphs" >4.674</text>
<path d="M256.5 3007.7h18" stroke="#444" stroke-width="2.6"/>
<text x="256" y="3023.2" font-size="49" text-anchor="end" fill="#333" textLength="148" lengthAdjust="spacingAndGlyphs" >4.6735</text>
<path d="M256.5 3182.0h18" stroke="#444" stroke-width="2.6"/>
<text x="256" y="3197.5" font-size="49" text-anchor="end" fill="#333" textLength="121" lengthAdjust="spacingAndGlyphs" >4.673</text>
<path d="M256.5 3356.3h18" stroke="#444" stroke-width="2.6"/>
<text x="256" y="3371.8" font-size="49" text-anchor="end" fill="#333" textLength="148" lengthAdjust="spacingAndGlyphs" >4.6725</text>
<path d="M256.5 3530.6h18" stroke="#444" stroke-width="2.6"/>
<text x="256" y="3546.1" font-size="49" text-anchor="end" fill="#333" textLength="121" lengthAdjust="spacingAndGlyphs" >4.672</text>
<path d="M256.5 3704.9h18" stroke="#444" stroke-width="2.6"/>
<text x="256" y="3720.4" font-size="49" text-anchor="end" fill="#333" textLength="148" lengthAdjust="spacingAndGlyphs" >4.6715</text>
<path d="M256.5 3879.2h18" stroke="#444" stroke-width="2.6"/>
<text x="256" y="3894.7" font-size="49" text-anchor="end" fill="#333" textLength="121" lengthAdjust="spacingAndGlyphs" >4.671</text>
<path d="M256.5 4053.5h18" stroke="#444" stroke-width="2.6"/>
<text x="256" y="4069.0" font-size="49" text-anchor="end" fill="#333" textLength="148" lengthAdjust="spacingAndGlyphs" >4.6705</text>
<path d="M256.5 4053.5v-18" stroke="#444" stroke-width="2.6"/>
<text x="261.5" y="4105" font-size="49" text-anchor="middle" fill="#333" textLength="124" lengthAdjust="spacingAndGlyphs" >5.145</text>
<path d="M430.6 4053.5v-18" stroke="#444" stroke-width="2.6"/>
<text x="435.6" y="4105" font-size="49" text-anchor="middle" fill="#333" textLength="96" lengthAdjust="spacingAndGlyphs" >5.15</text>
<path d="M604.8 4053.5v-18" stroke="#444" stroke-width="2.6"/>
<text x="609.8" y="4105" font-size="49" text-anchor="middle" fill="#333" textLength="124" lengthAdjust="spacingAndGlyphs" >5.155</text>
<path d="M779.0 4053.5v-18" stroke="#444" stroke-width="2.6"/>
<text x="784.0" y="4105" font-size="49" text-anchor="middle" fill="#333" textLength="96" lengthAdjust="spacingAndGlyphs" >5.16</text>
<path d="M953.1 4053.5v-18" stroke="#444" stroke-width="2.6"/>
<text x="958.1" y="4105" font-size="49" text-anchor="middle" fill="#333" textLength="124" lengthAdjust="spacingAndGlyphs" >5.165</text>
<path d="M1127.2 4053.5v-18" stroke="#444" stroke-width="2.6"/>
<text x="1132.2" y="4105" font-size="49" text-anchor="middle" fill="#333" textLength="96" lengthAdjust="spacingAndGlyphs" >5.17</text>
<path d="M1301.4 4053.5v-18" stroke="#444" stroke-width="2.6"/>
<text x="1306.4" y="4105" font-size="49" text-anchor="middle" fill="#333" textLength="124" lengthAdjust="spacingAndGlyphs" >5.175</text>
<path d="M1475.5 4053.5v-18" stroke="#444" stroke-width="2.6"/>
<text x="1480.5" y="4105" font-size="49" text-anchor="middle" fill="#333" textLength="96" lengthAdjust="spacingAndGlyphs" >5.18</text>
<path d="M1649.7 4053.5v-18" stroke="#444" stroke-width="2.6"/>
<text x="1654.7" y="4105" font-size="49" text-anchor="middle" fill="#333" textLength="124" lengthAdjust="spacingAndGlyphs" >5.185</text>
<path d="M1823.9 4053.5v-18" stroke="#444" stroke-width="2.6"/>
<text x="1828.9" y="4105" font-size="49" text-anchor="middle" fill="#333" textLength="96" lengthAdjust="spacingAndGlyphs" >5.19</text>
<path d="M1998.0 4053.5v-18" stroke="#444" stroke-width="2.6"/>
<text x="2003.0" y="4105" font-size="49" text-anchor="middle" fill="#333" textLength="124" lengthAdjust="spacingAndGlyphs" >5.195</text>
<text x="256.5" y="2291" font-size="39" text-anchor="start" fill="#333" textLength="72" lengthAdjust="spacingAndGlyphs" >x 10</text>
<text x="340.5" y="2263" font-size="22" text-anchor="start" fill="#333" >6</text>
<text x="1898" y="4182" font-size="39" text-anchor="start" fill="#333" textLength="72" lengthAdjust="spacingAndGlyphs" >x 10</text>
<text x="1978" y="4156" font-size="22" text-anchor="start" fill="#333" >5</text>
<text x="362" y="2257.5" font-size="126" text-anchor="start" fill="#000" textLength="74" lengthAdjust="spacingAndGlyphs" >b</text>
<g transform="translate(74.5,3331) rotate(-90)">
<text x="0" y="0" font-size="53" text-anchor="start" fill="#333" textLength="286" lengthAdjust="spacingAndGlyphs" >y coordinate</text>
<text x="289" y="0" font-size="77" text-anchor="start" fill="#333" >→</text>
</g>
<text x="980" y="4160" font-size="53" text-anchor="start" fill="#333" textLength="286" lengthAdjust="spacingAndGlyphs" >x coordinate</text>
<text x="1264.5" y="4160" font-size="80" text-anchor="start" fill="#333" >→</text>
<rect x="2066.5" y="2310.00" width="90.0" height="27.84" fill="#a90328"/>
<rect x="2066.5" y="2337.24" width="90.0" height="27.84" fill="#b20a2b"/>
<rect x="2066.5" y="2364.48" width="90.0" height="27.84" fill="#ba102e"/>
<rect x="2066.5" y="2391.73" width="90.0" height="27.84" fill="#c41630"/>
<rect x="2066.5" y="2418.97" width="90.0" height="27.84" fill="#d01930"/>
<rect x="2066.5" y="2446.21" width="90.0" height="27.84" fill="#dd1d2f"/>
<rect x="2066.5" y="2473.45" width="90.0" height="27.84" fill="#e9202f"/>
<rect x="2066.5" y="2500.70" width="90.0" height="27.84" fill="#ee2432"/>
<rect x="2066.5" y="2527.94" width="90.0" height="27.84" fill="#f42935"/>
<rect x="2066.5" y="2555.18" width="90.0" height="27.84" fill="#f92d38"/>
<rect x="2066.5" y="2582.42" width="90.0" height="27.84" fill="#fa383c"/>
<rect x="2066.5" y="2609.66" width="90.0" height="27.84" fill="#fb4540"/>
<rect x="2066.5" y="2636.91" width="90.0" height="27.84" fill="#fb5144"/>
<rect x="2066.5" y="2664.15" width="90.0" height="27.84" fill="#fb5d48"/>
<rect x="2066.5" y="2691.39" width="90.0" height="27.84" fill="#fc694e"/>
<rect x="2066.5" y="2718.63" width="90.0" height="27.84" fill="#fc7452"/>
<rect x="2066.5" y="2745.88" width="90.0" height="27.84" fill="#fc8058"/>
<rect x="2066.5" y="2773.12" width="90.0" height="27.84" fill="#fc8c5c"/>
<rect x="2066.5" y="2800.36" width="90.0" height="27.84" fill="#fd9862"/>
<rect x="2066.5" y="2827.60" width="90.0" height="27.84" fill="#fda468"/>
<rect x="2066.5" y="2854.84" width="90.0" height="27.84" fill="#fdb072"/>
<rect x="2066.5" y="2882.09" width="90.0" height="27.84" fill="#fdbd7d"/>
<rect x="2066.5" y="2909.33" width="90.0" height="27.84" fill="#fdc987"/>
<rect x="2066.5" y="2936.57" width="90.0" height="27.84" fill="#fdd290"/>
<rect x="2066.5" y="2963.81" width="90.0" height="27.84" fill="#fedc9a"/>
<rect x="2066.5" y="2991.05" width="90.0" height="27.84" fill="#fee5a3"/>
<rect x="2066.5" y="3018.30" width="90.0" height="27.84" fill="#feeaae"/>
<rect x="2066.5" y="3045.54" width="90.0" height="27.84" fill="#fff0b9"/>
<rect x="2066.5" y="3072.78" width="90.0" height="27.84" fill="#fff4c5"/>
<rect x="2066.5" y="3100.02" width="90.0" height="27.84" fill="#fdf8d1"/>
<rect x="2066.5" y="3127.27" width="90.0" height="27.84" fill="#fbfbdd"/>
<rect x="2066.5" y="3154.51" width="90.0" height="27.84" fill="#f9feea"/>
<rect x="2066.5" y="3181.75" width="90.0" height="27.84" fill="#f4fff2"/>
<rect x="2066.5" y="3208.99" width="90.0" height="27.84" fill="#edfef6"/>
<rect x="2066.5" y="3236.23" width="90.0" height="27.84" fill="#e5fdf9"/>
<rect x="2066.5" y="3263.48" width="90.0" height="27.84" fill="#dcfbfc"/>
<rect x="2066.5" y="3290.72" width="90.0" height="27.84" fill="#d0f7fb"/>
<rect x="2066.5" y="3317.96" width="90.0" height="27.84" fill="#c3f3fb"/>
<rect x="2066.5" y="3345.20" width="90.0" height="27.84" fill="#b7effa"/>
<rect x="2066.5" y="3372.45" width="90.0" height="27.84" fill="#aae9f9"/>
<rect x="2066.5" y="3399.69" width="90.0" height="27.84" fill="#9ee3f9"/>
<rect x="2066.5" y="3426.93" width="90.0" height="27.84" fill="#91ddf8"/>
<rect x="2066.5" y="3454.17" width="90.0" height="27.84" fill="#87d6f8"/>
<rect x="2066.5" y="3481.41" width="90.0" height="27.84" fill="#7dd0f8"/>
<rect x="2066.5" y="3508.66" width="90.0" height="27.84" fill="#73caf8"/>
<rect x="2066.5" y="3535.90" width="90.0" height="27.84" fill="#6bc2f8"/>
<rect x="2066.5" y="3563.14" width="90.0" height="27.84" fill="#63b9f8"/>
<rect x="2066.5" y="3590.38" width="90.0" height="27.84" fill="#5cb0f8"/>
<rect x="2066.5" y="3617.62" width="90.0" height="27.84" fill="#54a8f8"/>
<rect x="2066.5" y="3644.87" width="90.0" height="27.84" fill="#4d9ff7"/>
<rect x="2066.5" y="3672.11" width="90.0" height="27.84" fill="#4596f6"/>
<rect x="2066.5" y="3699.35" width="90.0" height="27.84" fill="#3e8cf5"/>
<rect x="2066.5" y="3726.59" width="90.0" height="27.84" fill="#3980f5"/>
<rect x="2066.5" y="3753.84" width="90.0" height="27.84" fill="#3473f5"/>
<rect x="2066.5" y="3781.08" width="90.0" height="27.84" fill="#3066f5"/>
<rect x="2066.5" y="3808.32" width="90.0" height="27.84" fill="#2c58f3"/>
<rect x="2066.5" y="3835.56" width="90.0" height="27.84" fill="#2948f2"/>
<rect x="2066.5" y="3862.80" width="90.0" height="27.84" fill="#253af0"/>
<rect x="2066.5" y="3890.05" width="90.0" height="27.84" fill="#242fec"/>
<rect x="2066.5" y="3917.29" width="90.0" height="27.84" fill="#2225e6"/>
<rect x="2066.5" y="3944.53" width="90.0" height="27.84" fill="#201be2"/>
<rect x="2066.5" y="3971.77" width="90.0" height="27.84" fill="#2015db"/>
<rect x="2066.5" y="3999.02" width="90.0" height="27.84" fill="#2110d3"/>
<rect x="2066.5" y="4026.26" width="90.0" height="27.84" fill="#220acc"/>
<rect x="2066.5" y="2310.0" width="90.0" height="1743.5" fill="none" stroke="#222" stroke-width="2.6"/>
<text x="2170" y="2326.0" font-size="49" text-anchor="start" fill="#333" textLength="66" lengthAdjust="spacingAndGlyphs" >0.5</text>
<path d="M2066.5 2484.3h18M2156.5 2484.3h-18" stroke="#222" stroke-width="3.5"/>
<text x="2170" y="2500.3" font-size="49" text-anchor="start" fill="#333" textLength="66" lengthAdjust="spacingAndGlyphs" >0.4</text>
<path d="M2066.5 2658.7h18M2156.5 2658.7h-18" stroke="#222" stroke-width="3.5"/>
<text x="2170" y="2674.7" font-size="49" text-anchor="start" fill="#333" textLength="66" lengthAdjust="spacingAndGlyphs" >0.3</text>
<path d="M2066.5 2833.1h18M2156.5 2833.1h-18" stroke="#222" stroke-width="3.5"/>
<text x="2170" y="2849.1" font-size="49" text-anchor="start" fill="#333" textLength="66" lengthAdjust="spacingAndGlyphs" >0.2</text>
<path d="M2066.5 3007.4h18M2156.5 3007.4h-18" stroke="#222" stroke-width="3.5"/>
<text x="2170" y="3023.4" font-size="49" text-anchor="start" fill="#333" textLength="66" lengthAdjust="spacingAndGlyphs" >0.1</text>
<path d="M2066.5 3181.8h18M2156.5 3181.8h-18" stroke="#222" stroke-width="3.5"/>
<text x="2170" y="3197.8" font-size="49" text-anchor="start" fill="#333" >0</text>
<path d="M2066.5 3356.1h18M2156.5 3356.1h-18" stroke="#222" stroke-width="3.5"/>
<text x="2171" y="3372.1" font-size="49" text-anchor="start" fill="#333" textLength="95" lengthAdjust="spacingAndGlyphs" >−0.1</text>
<path d="M2066.5 3530.4h18M2156.5 3530.4h-18" stroke="#222" stroke-width="3.5"/>
<text x="2171" y="3546.4" font-size="49" text-anchor="start" fill="#333" textLength="95" lengthAdjust="spacingAndGlyphs" >−0.2</text>
<path d="M2066.5 3704.8h18M2156.5 3704.8h-18" stroke="#222" stroke-width="3.5"/>
<text x="2171" y="3720.8" font-size="49" text-anchor="start" fill="#333" textLength="95" lengthAdjust="spacingAndGlyphs" >−0.3</text>
<path d="M2066.5 3879.2h18M2156.5 3879.2h-18" stroke="#222" stroke-width="3.5"/>
<text x="2171" y="3895.2" font-size="49" text-anchor="start" fill="#333" textLength="95" lengthAdjust="spacingAndGlyphs" >−0.4</text>
<text x="2171" y="4069.5" font-size="49" text-anchor="start" fill="#333" textLength="95" lengthAdjust="spacingAndGlyphs" >−0.5</text>
<g transform="translate(0,2136.5)">
<path d="M1907 199L1853 313L1906 258Z" fill="#fff" stroke="#000" stroke-width="3" stroke-linejoin="miter"/>
<path d="M1907 197L1962 314L1906 257Z" fill="#000" stroke="#000" stroke-width="1"/>
<text x="1906" y="353.5" font-size="52" text-anchor="middle" fill="#000" textLength="41" lengthAdjust="spacingAndGlyphs" >N</text>
</g>
<path d="M1557 4005.5H1941" stroke="#222" stroke-width="5.5"/>
<text x="1757" y="3988.5" font-size="58" text-anchor="middle" fill="#111" textLength="130" lengthAdjust="spacingAndGlyphs" >1 km</text>
<path d="M1707 3192L1851.8 3632.7" stroke="#111" stroke-width="4.5"/>
<text x="1748" y="3728" font-size="86" text-anchor="start" fill="#111" textLength="205" lengthAdjust="spacingAndGlyphs" >Samil</text>
</svg>
</body></html>
